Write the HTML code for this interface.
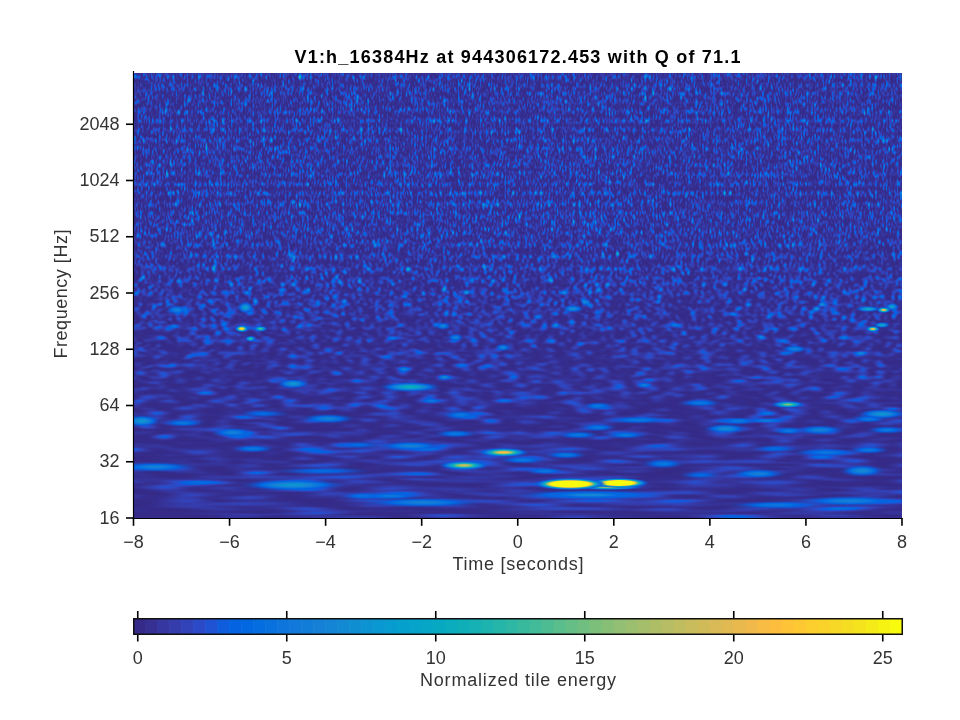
<!DOCTYPE html>
<html><head><meta charset="utf-8"><style>
html,body{margin:0;padding:0;background:#fff;width:960px;height:720px;overflow:hidden}
svg{display:block;will-change:transform}
text{font-family:"Liberation Sans",sans-serif;font-size:18px;fill:#333}
</style></head><body>
<svg width="960" height="720" viewBox="0 0 960 720">
<rect width="960" height="720" fill="#fff"/>
<defs><linearGradient id="fade" x1="0" y1="0" x2="0" y2="1"><stop offset="0" stop-color="#fff" stop-opacity="0"/><stop offset="0.5" stop-color="#fff" stop-opacity="1"/><stop offset="1" stop-color="#fff" stop-opacity="1"/></linearGradient><mask id="m" maskContentUnits="objectBoundingBox"><rect width="1" height="1" fill="url(#fade)"/></mask><filter id="cu" x="0" y="0" width="1" height="1" color-interpolation-filters="sRGB"><feComponentTransfer><feFuncR type="table" tableValues="0.208 0.209 0.210 0.211 0.211 0.212 0.212 0.212 0.212 0.212 0.211 0.210 0.209 0.208 0.205 0.202 0.200 0.197 0.192 0.186 0.180 0.175 0.167 0.157 0.146 0.136 0.125 0.110 0.095 0.080 0.064 0.052 0.041 0.030 0.019 0.011 0.010 0.009 0.007 0.006 0.008 0.011 0.013 0.016 0.019 0.023 0.027 0.030 0.034 0.038 0.042 0.046 0.050 0.053 0.056 0.059 0.062 0.064 0.066 0.069 0.071 0.073 0.074 0.075 0.077 0.078 0.078 0.079 0.079 0.079 0.079 0.078 0.077 0.076 0.074 0.072 0.069 0.067 0.064 0.061 0.057 0.054 0.050 0.047 0.043 0.040 0.037 0.034 0.032 0.030 0.028 0.027 0.026 0.025 0.025 0.024 0.024 0.024 0.023 0.023 0.023 0.023 0.023 0.023 0.023 0.024 0.025 0.025 0.026 0.028 0.031 0.034 0.037 0.040 0.045 0.049 0.054 0.059 0.065 0.071 0.076 0.082 0.089 0.095 0.102 0.109 0.116 0.123 0.130"/><feFuncG type="table" tableValues="0.166 0.172 0.177 0.183 0.188 0.193 0.199 0.205 0.210 0.216 0.221 0.227 0.233 0.239 0.245 0.251 0.257 0.262 0.269 0.275 0.281 0.288 0.294 0.302 0.309 0.317 0.324 0.332 0.341 0.349 0.357 0.364 0.370 0.377 0.383 0.389 0.394 0.399 0.404 0.409 0.413 0.417 0.421 0.425 0.429 0.433 0.437 0.440 0.444 0.448 0.451 0.455 0.459 0.462 0.466 0.469 0.472 0.476 0.479 0.483 0.486 0.490 0.493 0.497 0.500 0.504 0.508 0.511 0.515 0.519 0.523 0.527 0.531 0.535 0.539 0.543 0.548 0.552 0.557 0.562 0.566 0.571 0.576 0.580 0.585 0.589 0.594 0.598 0.602 0.606 0.610 0.614 0.617 0.621 0.624 0.627 0.631 0.634 0.637 0.640 0.643 0.645 0.648 0.651 0.653 0.656 0.658 0.661 0.663 0.666 0.668 0.670 0.673 0.675 0.677 0.679 0.682 0.684 0.686 0.688 0.690 0.692 0.694 0.696 0.698 0.700 0.702 0.704 0.706"/><feFuncB type="table" tableValues="0.529 0.540 0.552 0.563 0.574 0.585 0.597 0.608 0.619 0.631 0.642 0.654 0.666 0.677 0.689 0.701 0.712 0.724 0.736 0.748 0.759 0.771 0.783 0.795 0.807 0.818 0.830 0.839 0.848 0.857 0.865 0.870 0.874 0.877 0.880 0.882 0.882 0.882 0.883 0.883 0.882 0.881 0.880 0.879 0.878 0.876 0.875 0.873 0.871 0.870 0.868 0.866 0.864 0.862 0.860 0.858 0.856 0.854 0.852 0.850 0.848 0.846 0.844 0.842 0.840 0.838 0.837 0.835 0.833 0.832 0.830 0.829 0.828 0.827 0.826 0.826 0.825 0.825 0.824 0.824 0.823 0.823 0.823 0.822 0.822 0.821 0.820 0.819 0.818 0.816 0.815 0.814 0.811 0.809 0.807 0.805 0.802 0.799 0.796 0.793 0.790 0.787 0.784 0.780 0.777 0.773 0.769 0.766 0.762 0.758 0.754 0.750 0.746 0.742 0.738 0.734 0.730 0.726 0.721 0.717 0.712 0.708 0.703 0.699 0.694 0.689 0.684 0.679 0.675"/></feComponentTransfer></filter><filter id="cl" x="0" y="0" width="1" height="1" color-interpolation-filters="sRGB"><feComponentTransfer><feFuncR type="table" tableValues="0.208 0.208 0.209 0.209 0.210 0.211 0.211 0.212 0.212 0.212 0.212 0.212 0.211 0.210 0.209 0.208 0.204 0.201 0.198 0.193 0.186 0.178 0.171 0.158 0.144 0.130 0.112 0.092 0.071 0.052 0.037 0.022 0.011 0.009 0.007 0.007 0.011 0.014 0.019 0.025 0.030 0.036 0.042 0.048 0.053 0.058 0.063 0.066 0.070 0.073 0.075 0.077 0.078 0.079 0.079 0.077 0.076 0.073 0.069 0.064 0.058 0.052 0.046 0.040 0.034 0.031 0.028 0.026 0.025 0.024 0.024 0.023 0.023 0.023 0.023 0.025 0.027 0.032 0.037 0.044 0.053 0.063 0.074 0.085 0.098 0.111 0.124 0.139 0.154 0.169 0.185 0.202 0.219 0.238 0.256 0.276 0.296 0.317 0.338 0.360 0.382 0.403 0.425 0.447 0.468 0.489 0.509 0.530 0.549 0.568 0.587 0.606 0.624 0.642 0.660 0.677 0.694 0.711 0.728 0.745 0.761 0.777 0.794 0.810 0.826 0.842 0.858 0.874 0.889"/><feFuncG type="table" tableValues="0.166 0.168 0.171 0.175 0.179 0.183 0.188 0.193 0.198 0.203 0.209 0.214 0.220 0.227 0.233 0.239 0.246 0.253 0.260 0.268 0.276 0.284 0.292 0.301 0.311 0.321 0.331 0.342 0.354 0.364 0.373 0.382 0.390 0.397 0.404 0.411 0.417 0.423 0.429 0.435 0.441 0.446 0.452 0.457 0.463 0.468 0.474 0.479 0.485 0.491 0.496 0.502 0.508 0.514 0.520 0.527 0.534 0.541 0.549 0.557 0.565 0.573 0.581 0.589 0.596 0.603 0.610 0.617 0.623 0.629 0.635 0.640 0.645 0.650 0.655 0.660 0.664 0.668 0.673 0.677 0.681 0.685 0.689 0.693 0.697 0.701 0.704 0.708 0.712 0.715 0.719 0.722 0.725 0.728 0.731 0.734 0.737 0.739 0.741 0.743 0.745 0.746 0.747 0.748 0.749 0.749 0.749 0.749 0.749 0.749 0.748 0.747 0.747 0.746 0.745 0.744 0.743 0.742 0.740 0.739 0.738 0.736 0.735 0.733 0.732 0.731 0.729 0.728 0.727"/><feFuncB type="table" tableValues="0.529 0.534 0.540 0.547 0.556 0.564 0.574 0.584 0.594 0.605 0.617 0.628 0.640 0.653 0.666 0.679 0.692 0.706 0.720 0.734 0.749 0.764 0.779 0.794 0.809 0.825 0.838 0.850 0.862 0.870 0.875 0.879 0.882 0.882 0.883 0.882 0.881 0.879 0.878 0.875 0.873 0.870 0.868 0.865 0.862 0.858 0.855 0.852 0.849 0.846 0.843 0.839 0.837 0.834 0.831 0.829 0.827 0.826 0.825 0.824 0.824 0.823 0.822 0.821 0.820 0.817 0.815 0.811 0.807 0.803 0.798 0.793 0.787 0.781 0.775 0.768 0.761 0.753 0.746 0.738 0.731 0.722 0.714 0.706 0.697 0.688 0.678 0.669 0.659 0.649 0.639 0.629 0.618 0.608 0.597 0.586 0.575 0.564 0.553 0.542 0.531 0.521 0.511 0.501 0.492 0.483 0.475 0.466 0.458 0.450 0.443 0.435 0.428 0.421 0.414 0.407 0.400 0.393 0.387 0.380 0.373 0.367 0.360 0.353 0.347 0.340 0.333 0.326 0.318"/></feComponentTransfer></filter><filter id="fu" x="0" y="0" width="1" height="1" color-interpolation-filters="sRGB"><feTurbulence type="fractalNoise" baseFrequency="0.2778 0.1111" numOctaves="1" seed="5" result="n1"/><feTurbulence type="fractalNoise" baseFrequency="0.3647 0.0952" numOctaves="1" seed="6" result="n2"/><feColorMatrix in="n1" values="1 0 0 0 0 0 0 0 0 0 0 0 0 0 0 0 0 0 0 1" result="a"/><feColorMatrix in="n2" values="0 0 0 0 0 1 0 0 0 0 0 0 0 0 0 0 0 0 0 1" result="b"/><feComposite in="a" in2="b" operator="arithmetic" k2="1" k3="1" result="c"/><feComposite in="c" in2="c" operator="arithmetic" k1="4" k2="-2" k3="-2" k4="1"/><feColorMatrix values="1.000 1.000 0 0 0 1.000 1.000 0 0 0 1.000 1.000 0 0 0 0 0 0 0 1"/></filter><filter id="f0" x="0" y="0" width="1" height="1" color-interpolation-filters="sRGB"><feTurbulence type="fractalNoise" baseFrequency="0.2778 0.1111" numOctaves="1" seed="11" result="n1"/><feTurbulence type="fractalNoise" baseFrequency="0.3647 0.0952" numOctaves="1" seed="12" result="n2"/><feColorMatrix in="n1" values="1 0 0 0 0 0 0 0 0 0 0 0 0 0 0 0 0 0 0 1" result="a"/><feColorMatrix in="n2" values="0 0 0 0 0 1 0 0 0 0 0 0 0 0 0 0 0 0 0 1" result="b"/><feComposite in="a" in2="b" operator="arithmetic" k2="1" k3="1" result="c"/><feComposite in="c" in2="c" operator="arithmetic" k1="4" k2="-2" k3="-2" k4="1"/><feColorMatrix values="1.150 1.150 0 0 0 1.150 1.150 0 0 0 1.150 1.150 0 0 0 0 0 0 0 1"/></filter><filter id="f1" x="0" y="0" width="1" height="1" color-interpolation-filters="sRGB"><feTurbulence type="fractalNoise" baseFrequency="0.2778 0.1111" numOctaves="1" seed="18" result="n1"/><feTurbulence type="fractalNoise" baseFrequency="0.3647 0.0952" numOctaves="1" seed="19" result="n2"/><feColorMatrix in="n1" values="1 0 0 0 0 0 0 0 0 0 0 0 0 0 0 0 0 0 0 1" result="a"/><feColorMatrix in="n2" values="0 0 0 0 0 1 0 0 0 0 0 0 0 0 0 0 0 0 0 1" result="b"/><feComposite in="a" in2="b" operator="arithmetic" k2="1" k3="1" result="c"/><feComposite in="c" in2="c" operator="arithmetic" k1="4" k2="-2" k3="-2" k4="1"/><feColorMatrix values="1.150 1.150 0 0 0 1.150 1.150 0 0 0 1.150 1.150 0 0 0 0 0 0 0 1"/></filter><filter id="f2" x="0" y="0" width="1" height="1" color-interpolation-filters="sRGB"><feTurbulence type="fractalNoise" baseFrequency="0.2778 0.1111" numOctaves="1" seed="25" result="n1"/><feTurbulence type="fractalNoise" baseFrequency="0.3647 0.0952" numOctaves="1" seed="26" result="n2"/><feColorMatrix in="n1" values="1 0 0 0 0 0 0 0 0 0 0 0 0 0 0 0 0 0 0 1" result="a"/><feColorMatrix in="n2" values="0 0 0 0 0 1 0 0 0 0 0 0 0 0 0 0 0 0 0 1" result="b"/><feComposite in="a" in2="b" operator="arithmetic" k2="1" k3="1" result="c"/><feComposite in="c" in2="c" operator="arithmetic" k1="4" k2="-2" k3="-2" k4="1"/><feColorMatrix values="1.150 1.150 0 0 0 1.150 1.150 0 0 0 1.150 1.150 0 0 0 0 0 0 0 1"/></filter><filter id="f3" x="0" y="0" width="1" height="1" color-interpolation-filters="sRGB"><feTurbulence type="fractalNoise" baseFrequency="0.2778 0.1111" numOctaves="1" seed="32" result="n1"/><feTurbulence type="fractalNoise" baseFrequency="0.3647 0.0952" numOctaves="1" seed="33" result="n2"/><feColorMatrix in="n1" values="1 0 0 0 0 0 0 0 0 0 0 0 0 0 0 0 0 0 0 1" result="a"/><feColorMatrix in="n2" values="0 0 0 0 0 1 0 0 0 0 0 0 0 0 0 0 0 0 0 1" result="b"/><feComposite in="a" in2="b" operator="arithmetic" k2="1" k3="1" result="c"/><feComposite in="c" in2="c" operator="arithmetic" k1="4" k2="-2" k3="-2" k4="1"/><feColorMatrix values="1.150 1.150 0 0 0 1.150 1.150 0 0 0 1.150 1.150 0 0 0 0 0 0 0 1"/></filter><filter id="f4" x="0" y="0" width="1" height="1" color-interpolation-filters="sRGB"><feTurbulence type="fractalNoise" baseFrequency="0.2778 0.1111" numOctaves="1" seed="39" result="n1"/><feTurbulence type="fractalNoise" baseFrequency="0.3647 0.0952" numOctaves="1" seed="40" result="n2"/><feColorMatrix in="n1" values="1 0 0 0 0 0 0 0 0 0 0 0 0 0 0 0 0 0 0 1" result="a"/><feColorMatrix in="n2" values="0 0 0 0 0 1 0 0 0 0 0 0 0 0 0 0 0 0 0 1" result="b"/><feComposite in="a" in2="b" operator="arithmetic" k2="1" k3="1" result="c"/><feComposite in="c" in2="c" operator="arithmetic" k1="4" k2="-2" k3="-2" k4="1"/><feColorMatrix values="1.150 1.150 0 0 0 1.150 1.150 0 0 0 1.150 1.150 0 0 0 0 0 0 0 1"/></filter><filter id="f5" x="0" y="0" width="1" height="1" color-interpolation-filters="sRGB"><feTurbulence type="fractalNoise" baseFrequency="0.2778 0.1111" numOctaves="1" seed="46" result="n1"/><feTurbulence type="fractalNoise" baseFrequency="0.3647 0.0952" numOctaves="1" seed="47" result="n2"/><feColorMatrix in="n1" values="1 0 0 0 0 0 0 0 0 0 0 0 0 0 0 0 0 0 0 1" result="a"/><feColorMatrix in="n2" values="0 0 0 0 0 1 0 0 0 0 0 0 0 0 0 0 0 0 0 1" result="b"/><feComposite in="a" in2="b" operator="arithmetic" k2="1" k3="1" result="c"/><feComposite in="c" in2="c" operator="arithmetic" k1="4" k2="-2" k3="-2" k4="1"/><feColorMatrix values="1.150 1.150 0 0 0 1.150 1.150 0 0 0 1.150 1.150 0 0 0 0 0 0 0 1"/></filter><filter id="f6" x="0" y="0" width="1" height="1" color-interpolation-filters="sRGB"><feTurbulence type="fractalNoise" baseFrequency="0.2778 0.1111" numOctaves="1" seed="53" result="n1"/><feTurbulence type="fractalNoise" baseFrequency="0.3647 0.0952" numOctaves="1" seed="54" result="n2"/><feColorMatrix in="n1" values="1 0 0 0 0 0 0 0 0 0 0 0 0 0 0 0 0 0 0 1" result="a"/><feColorMatrix in="n2" values="0 0 0 0 0 1 0 0 0 0 0 0 0 0 0 0 0 0 0 1" result="b"/><feComposite in="a" in2="b" operator="arithmetic" k2="1" k3="1" result="c"/><feComposite in="c" in2="c" operator="arithmetic" k1="4" k2="-2" k3="-2" k4="1"/><feColorMatrix values="1.150 1.150 0 0 0 1.150 1.150 0 0 0 1.150 1.150 0 0 0 0 0 0 0 1"/></filter><filter id="f7" x="0" y="0" width="1" height="1" color-interpolation-filters="sRGB"><feTurbulence type="fractalNoise" baseFrequency="0.2778 0.1111" numOctaves="1" seed="60" result="n1"/><feTurbulence type="fractalNoise" baseFrequency="0.3647 0.0952" numOctaves="1" seed="61" result="n2"/><feColorMatrix in="n1" values="1 0 0 0 0 0 0 0 0 0 0 0 0 0 0 0 0 0 0 1" result="a"/><feColorMatrix in="n2" values="0 0 0 0 0 1 0 0 0 0 0 0 0 0 0 0 0 0 0 1" result="b"/><feComposite in="a" in2="b" operator="arithmetic" k2="1" k3="1" result="c"/><feComposite in="c" in2="c" operator="arithmetic" k1="4" k2="-2" k3="-2" k4="1"/><feColorMatrix values="1.150 1.150 0 0 0 1.150 1.150 0 0 0 1.150 1.150 0 0 0 0 0 0 0 1"/></filter><filter id="f8" x="0" y="0" width="1" height="1" color-interpolation-filters="sRGB"><feTurbulence type="fractalNoise" baseFrequency="0.2778 0.1111" numOctaves="1" seed="67" result="n1"/><feTurbulence type="fractalNoise" baseFrequency="0.3647 0.0952" numOctaves="1" seed="68" result="n2"/><feColorMatrix in="n1" values="1 0 0 0 0 0 0 0 0 0 0 0 0 0 0 0 0 0 0 1" result="a"/><feColorMatrix in="n2" values="0 0 0 0 0 1 0 0 0 0 0 0 0 0 0 0 0 0 0 1" result="b"/><feComposite in="a" in2="b" operator="arithmetic" k2="1" k3="1" result="c"/><feComposite in="c" in2="c" operator="arithmetic" k1="4" k2="-2" k3="-2" k4="1"/><feColorMatrix values="1.150 1.150 0 0 0 1.150 1.150 0 0 0 1.150 1.150 0 0 0 0 0 0 0 1"/></filter><filter id="f9" x="0" y="0" width="1" height="1" color-interpolation-filters="sRGB"><feTurbulence type="fractalNoise" baseFrequency="0.2778 0.1111" numOctaves="1" seed="74" result="n1"/><feTurbulence type="fractalNoise" baseFrequency="0.3647 0.0952" numOctaves="1" seed="75" result="n2"/><feColorMatrix in="n1" values="1 0 0 0 0 0 0 0 0 0 0 0 0 0 0 0 0 0 0 1" result="a"/><feColorMatrix in="n2" values="0 0 0 0 0 1 0 0 0 0 0 0 0 0 0 0 0 0 0 1" result="b"/><feComposite in="a" in2="b" operator="arithmetic" k2="1" k3="1" result="c"/><feComposite in="c" in2="c" operator="arithmetic" k1="4" k2="-2" k3="-2" k4="1"/><feColorMatrix values="1.150 1.150 0 0 0 1.150 1.150 0 0 0 1.150 1.150 0 0 0 0 0 0 0 1"/></filter><filter id="f10" x="0" y="0" width="1" height="1" color-interpolation-filters="sRGB"><feTurbulence type="fractalNoise" baseFrequency="0.2778 0.1111" numOctaves="1" seed="81" result="n1"/><feTurbulence type="fractalNoise" baseFrequency="0.3647 0.0952" numOctaves="1" seed="82" result="n2"/><feColorMatrix in="n1" values="1 0 0 0 0 0 0 0 0 0 0 0 0 0 0 0 0 0 0 1" result="a"/><feColorMatrix in="n2" values="0 0 0 0 0 1 0 0 0 0 0 0 0 0 0 0 0 0 0 1" result="b"/><feComposite in="a" in2="b" operator="arithmetic" k2="1" k3="1" result="c"/><feComposite in="c" in2="c" operator="arithmetic" k1="4" k2="-2" k3="-2" k4="1"/><feColorMatrix values="1.150 1.150 0 0 0 1.150 1.150 0 0 0 1.150 1.150 0 0 0 0 0 0 0 1"/></filter><filter id="f11" x="0" y="0" width="1" height="1" color-interpolation-filters="sRGB"><feTurbulence type="fractalNoise" baseFrequency="0.2778 0.1111" numOctaves="1" seed="88" result="n1"/><feTurbulence type="fractalNoise" baseFrequency="0.3647 0.0952" numOctaves="1" seed="89" result="n2"/><feColorMatrix in="n1" values="1 0 0 0 0 0 0 0 0 0 0 0 0 0 0 0 0 0 0 1" result="a"/><feColorMatrix in="n2" values="0 0 0 0 0 1 0 0 0 0 0 0 0 0 0 0 0 0 0 1" result="b"/><feComposite in="a" in2="b" operator="arithmetic" k2="1" k3="1" result="c"/><feComposite in="c" in2="c" operator="arithmetic" k1="4" k2="-2" k3="-2" k4="1"/><feColorMatrix values="1.150 1.150 0 0 0 1.150 1.150 0 0 0 1.150 1.150 0 0 0 0 0 0 0 1"/></filter><filter id="f12" x="0" y="0" width="1" height="1" color-interpolation-filters="sRGB"><feTurbulence type="fractalNoise" baseFrequency="0.2778 0.1111" numOctaves="1" seed="95" result="n1"/><feTurbulence type="fractalNoise" baseFrequency="0.3647 0.0952" numOctaves="1" seed="96" result="n2"/><feColorMatrix in="n1" values="1 0 0 0 0 0 0 0 0 0 0 0 0 0 0 0 0 0 0 1" result="a"/><feColorMatrix in="n2" values="0 0 0 0 0 1 0 0 0 0 0 0 0 0 0 0 0 0 0 1" result="b"/><feComposite in="a" in2="b" operator="arithmetic" k2="1" k3="1" result="c"/><feComposite in="c" in2="c" operator="arithmetic" k1="4" k2="-2" k3="-2" k4="1"/><feColorMatrix values="1.150 1.150 0 0 0 1.150 1.150 0 0 0 1.150 1.150 0 0 0 0 0 0 0 1"/></filter><filter id="f13" x="0" y="0" width="1" height="1" color-interpolation-filters="sRGB"><feTurbulence type="fractalNoise" baseFrequency="0.2778 0.1111" numOctaves="1" seed="102" result="n1"/><feTurbulence type="fractalNoise" baseFrequency="0.3647 0.0952" numOctaves="1" seed="103" result="n2"/><feColorMatrix in="n1" values="1 0 0 0 0 0 0 0 0 0 0 0 0 0 0 0 0 0 0 1" result="a"/><feColorMatrix in="n2" values="0 0 0 0 0 1 0 0 0 0 0 0 0 0 0 0 0 0 0 1" result="b"/><feComposite in="a" in2="b" operator="arithmetic" k2="1" k3="1" result="c"/><feComposite in="c" in2="c" operator="arithmetic" k1="4" k2="-2" k3="-2" k4="1"/><feColorMatrix values="1.150 1.150 0 0 0 1.150 1.150 0 0 0 1.150 1.150 0 0 0 0 0 0 0 1"/></filter><filter id="f14" x="0" y="0" width="1" height="1" color-interpolation-filters="sRGB"><feTurbulence type="fractalNoise" baseFrequency="0.2778 0.1111" numOctaves="1" seed="109" result="n1"/><feTurbulence type="fractalNoise" baseFrequency="0.3647 0.0952" numOctaves="1" seed="110" result="n2"/><feColorMatrix in="n1" values="1 0 0 0 0 0 0 0 0 0 0 0 0 0 0 0 0 0 0 1" result="a"/><feColorMatrix in="n2" values="0 0 0 0 0 1 0 0 0 0 0 0 0 0 0 0 0 0 0 1" result="b"/><feComposite in="a" in2="b" operator="arithmetic" k2="1" k3="1" result="c"/><feComposite in="c" in2="c" operator="arithmetic" k1="4" k2="-2" k3="-2" k4="1"/><feColorMatrix values="1.150 1.150 0 0 0 1.150 1.150 0 0 0 1.150 1.150 0 0 0 0 0 0 0 1"/></filter><filter id="f15" x="0" y="0" width="1" height="1" color-interpolation-filters="sRGB"><feTurbulence type="fractalNoise" baseFrequency="0.2778 0.1111" numOctaves="1" seed="116" result="n1"/><feTurbulence type="fractalNoise" baseFrequency="0.3647 0.0952" numOctaves="1" seed="117" result="n2"/><feColorMatrix in="n1" values="1 0 0 0 0 0 0 0 0 0 0 0 0 0 0 0 0 0 0 1" result="a"/><feColorMatrix in="n2" values="0 0 0 0 0 1 0 0 0 0 0 0 0 0 0 0 0 0 0 1" result="b"/><feComposite in="a" in2="b" operator="arithmetic" k2="1" k3="1" result="c"/><feComposite in="c" in2="c" operator="arithmetic" k1="4" k2="-2" k3="-2" k4="1"/><feColorMatrix values="1.150 1.150 0 0 0 1.150 1.150 0 0 0 1.150 1.150 0 0 0 0 0 0 0 1"/></filter><filter id="f16" x="0" y="0" width="1" height="1" color-interpolation-filters="sRGB"><feTurbulence type="fractalNoise" baseFrequency="0.2778 0.1111" numOctaves="1" seed="123" result="n1"/><feTurbulence type="fractalNoise" baseFrequency="0.3647 0.0952" numOctaves="1" seed="124" result="n2"/><feColorMatrix in="n1" values="1 0 0 0 0 0 0 0 0 0 0 0 0 0 0 0 0 0 0 1" result="a"/><feColorMatrix in="n2" values="0 0 0 0 0 1 0 0 0 0 0 0 0 0 0 0 0 0 0 1" result="b"/><feComposite in="a" in2="b" operator="arithmetic" k2="1" k3="1" result="c"/><feComposite in="c" in2="c" operator="arithmetic" k1="4" k2="-2" k3="-2" k4="1"/><feColorMatrix values="1.150 1.150 0 0 0 1.150 1.150 0 0 0 1.150 1.150 0 0 0 0 0 0 0 1"/></filter><filter id="f17" x="0" y="0" width="1" height="1" color-interpolation-filters="sRGB"><feTurbulence type="fractalNoise" baseFrequency="0.2778 0.1111" numOctaves="1" seed="130" result="n1"/><feTurbulence type="fractalNoise" baseFrequency="0.3647 0.0952" numOctaves="1" seed="131" result="n2"/><feColorMatrix in="n1" values="1 0 0 0 0 0 0 0 0 0 0 0 0 0 0 0 0 0 0 1" result="a"/><feColorMatrix in="n2" values="0 0 0 0 0 1 0 0 0 0 0 0 0 0 0 0 0 0 0 1" result="b"/><feComposite in="a" in2="b" operator="arithmetic" k2="1" k3="1" result="c"/><feComposite in="c" in2="c" operator="arithmetic" k1="4" k2="-2" k3="-2" k4="1"/><feColorMatrix values="1.150 1.150 0 0 0 1.150 1.150 0 0 0 1.150 1.150 0 0 0 0 0 0 0 1"/></filter><filter id="f18" x="0" y="0" width="1" height="1" color-interpolation-filters="sRGB"><feTurbulence type="fractalNoise" baseFrequency="0.2778 0.1111" numOctaves="1" seed="137" result="n1"/><feTurbulence type="fractalNoise" baseFrequency="0.3647 0.0952" numOctaves="1" seed="138" result="n2"/><feColorMatrix in="n1" values="1 0 0 0 0 0 0 0 0 0 0 0 0 0 0 0 0 0 0 1" result="a"/><feColorMatrix in="n2" values="0 0 0 0 0 1 0 0 0 0 0 0 0 0 0 0 0 0 0 1" result="b"/><feComposite in="a" in2="b" operator="arithmetic" k2="1" k3="1" result="c"/><feComposite in="c" in2="c" operator="arithmetic" k1="4" k2="-2" k3="-2" k4="1"/><feColorMatrix values="1.150 1.150 0 0 0 1.150 1.150 0 0 0 1.150 1.150 0 0 0 0 0 0 0 1"/></filter><filter id="f19" x="0" y="0" width="1" height="1" color-interpolation-filters="sRGB"><feTurbulence type="fractalNoise" baseFrequency="0.2778 0.1111" numOctaves="1" seed="144" result="n1"/><feTurbulence type="fractalNoise" baseFrequency="0.3647 0.0952" numOctaves="1" seed="145" result="n2"/><feColorMatrix in="n1" values="1 0 0 0 0 0 0 0 0 0 0 0 0 0 0 0 0 0 0 1" result="a"/><feColorMatrix in="n2" values="0 0 0 0 0 1 0 0 0 0 0 0 0 0 0 0 0 0 0 1" result="b"/><feComposite in="a" in2="b" operator="arithmetic" k2="1" k3="1" result="c"/><feComposite in="c" in2="c" operator="arithmetic" k1="4" k2="-2" k3="-2" k4="1"/><feColorMatrix values="1.150 1.150 0 0 0 1.150 1.150 0 0 0 1.150 1.150 0 0 0 0 0 0 0 1"/></filter><filter id="f20" x="0" y="0" width="1" height="1" color-interpolation-filters="sRGB"><feTurbulence type="fractalNoise" baseFrequency="0.2778 0.1111" numOctaves="1" seed="151" result="n1"/><feTurbulence type="fractalNoise" baseFrequency="0.3647 0.0952" numOctaves="1" seed="152" result="n2"/><feColorMatrix in="n1" values="1 0 0 0 0 0 0 0 0 0 0 0 0 0 0 0 0 0 0 1" result="a"/><feColorMatrix in="n2" values="0 0 0 0 0 1 0 0 0 0 0 0 0 0 0 0 0 0 0 1" result="b"/><feComposite in="a" in2="b" operator="arithmetic" k2="1" k3="1" result="c"/><feComposite in="c" in2="c" operator="arithmetic" k1="4" k2="-2" k3="-2" k4="1"/><feColorMatrix values="1.150 1.150 0 0 0 1.150 1.150 0 0 0 1.150 1.150 0 0 0 0 0 0 0 1"/></filter><filter id="f21" x="0" y="0" width="1" height="1" color-interpolation-filters="sRGB"><feTurbulence type="fractalNoise" baseFrequency="0.2778 0.1111" numOctaves="1" seed="158" result="n1"/><feTurbulence type="fractalNoise" baseFrequency="0.3647 0.0952" numOctaves="1" seed="159" result="n2"/><feColorMatrix in="n1" values="1 0 0 0 0 0 0 0 0 0 0 0 0 0 0 0 0 0 0 1" result="a"/><feColorMatrix in="n2" values="0 0 0 0 0 1 0 0 0 0 0 0 0 0 0 0 0 0 0 1" result="b"/><feComposite in="a" in2="b" operator="arithmetic" k2="1" k3="1" result="c"/><feComposite in="c" in2="c" operator="arithmetic" k1="4" k2="-2" k3="-2" k4="1"/><feColorMatrix values="1.150 1.150 0 0 0 1.150 1.150 0 0 0 1.150 1.150 0 0 0 0 0 0 0 1"/></filter><filter id="f22" x="0" y="0" width="1" height="1" color-interpolation-filters="sRGB"><feTurbulence type="fractalNoise" baseFrequency="0.2778 0.1111" numOctaves="1" seed="165" result="n1"/><feTurbulence type="fractalNoise" baseFrequency="0.3647 0.0952" numOctaves="1" seed="166" result="n2"/><feColorMatrix in="n1" values="1 0 0 0 0 0 0 0 0 0 0 0 0 0 0 0 0 0 0 1" result="a"/><feColorMatrix in="n2" values="0 0 0 0 0 1 0 0 0 0 0 0 0 0 0 0 0 0 0 1" result="b"/><feComposite in="a" in2="b" operator="arithmetic" k2="1" k3="1" result="c"/><feComposite in="c" in2="c" operator="arithmetic" k1="4" k2="-2" k3="-2" k4="1"/><feColorMatrix values="1.150 1.150 0 0 0 1.150 1.150 0 0 0 1.150 1.150 0 0 0 0 0 0 0 1"/></filter><filter id="f23" x="0" y="0" width="1" height="1" color-interpolation-filters="sRGB"><feTurbulence type="fractalNoise" baseFrequency="0.2778 0.1111" numOctaves="1" seed="172" result="n1"/><feTurbulence type="fractalNoise" baseFrequency="0.3647 0.0952" numOctaves="1" seed="173" result="n2"/><feColorMatrix in="n1" values="1 0 0 0 0 0 0 0 0 0 0 0 0 0 0 0 0 0 0 1" result="a"/><feColorMatrix in="n2" values="0 0 0 0 0 1 0 0 0 0 0 0 0 0 0 0 0 0 0 1" result="b"/><feComposite in="a" in2="b" operator="arithmetic" k2="1" k3="1" result="c"/><feComposite in="c" in2="c" operator="arithmetic" k1="4" k2="-2" k3="-2" k4="1"/><feColorMatrix values="1.150 1.150 0 0 0 1.150 1.150 0 0 0 1.150 1.150 0 0 0 0 0 0 0 1"/></filter><filter id="f24" x="0" y="0" width="1" height="1" color-interpolation-filters="sRGB"><feTurbulence type="fractalNoise" baseFrequency="0.2778 0.1111" numOctaves="1" seed="179" result="n1"/><feTurbulence type="fractalNoise" baseFrequency="0.3647 0.0952" numOctaves="1" seed="180" result="n2"/><feColorMatrix in="n1" values="1 0 0 0 0 0 0 0 0 0 0 0 0 0 0 0 0 0 0 1" result="a"/><feColorMatrix in="n2" values="0 0 0 0 0 1 0 0 0 0 0 0 0 0 0 0 0 0 0 1" result="b"/><feComposite in="a" in2="b" operator="arithmetic" k2="1" k3="1" result="c"/><feComposite in="c" in2="c" operator="arithmetic" k1="4" k2="-2" k3="-2" k4="1"/><feColorMatrix values="1.150 1.150 0 0 0 1.150 1.150 0 0 0 1.150 1.150 0 0 0 0 0 0 0 1"/></filter><filter id="f25" x="0" y="0" width="1" height="1" color-interpolation-filters="sRGB"><feTurbulence type="fractalNoise" baseFrequency="0.2778 0.1111" numOctaves="1" seed="186" result="n1"/><feTurbulence type="fractalNoise" baseFrequency="0.3647 0.0952" numOctaves="1" seed="187" result="n2"/><feColorMatrix in="n1" values="1 0 0 0 0 0 0 0 0 0 0 0 0 0 0 0 0 0 0 1" result="a"/><feColorMatrix in="n2" values="0 0 0 0 0 1 0 0 0 0 0 0 0 0 0 0 0 0 0 1" result="b"/><feComposite in="a" in2="b" operator="arithmetic" k2="1" k3="1" result="c"/><feComposite in="c" in2="c" operator="arithmetic" k1="4" k2="-2" k3="-2" k4="1"/><feColorMatrix values="1.150 1.150 0 0 0 1.150 1.150 0 0 0 1.150 1.150 0 0 0 0 0 0 0 1"/></filter><filter id="f26" x="0" y="0" width="1" height="1" color-interpolation-filters="sRGB"><feTurbulence type="fractalNoise" baseFrequency="0.2778 0.1111" numOctaves="1" seed="193" result="n1"/><feTurbulence type="fractalNoise" baseFrequency="0.3647 0.0952" numOctaves="1" seed="194" result="n2"/><feColorMatrix in="n1" values="1 0 0 0 0 0 0 0 0 0 0 0 0 0 0 0 0 0 0 1" result="a"/><feColorMatrix in="n2" values="0 0 0 0 0 1 0 0 0 0 0 0 0 0 0 0 0 0 0 1" result="b"/><feComposite in="a" in2="b" operator="arithmetic" k2="1" k3="1" result="c"/><feComposite in="c" in2="c" operator="arithmetic" k1="4" k2="-2" k3="-2" k4="1"/><feColorMatrix values="1.150 1.150 0 0 0 1.150 1.150 0 0 0 1.150 1.150 0 0 0 0 0 0 0 1"/></filter><filter id="f27" x="0" y="0" width="1" height="1" color-interpolation-filters="sRGB"><feTurbulence type="fractalNoise" baseFrequency="0.2778 0.1111" numOctaves="1" seed="200" result="n1"/><feTurbulence type="fractalNoise" baseFrequency="0.3647 0.0952" numOctaves="1" seed="201" result="n2"/><feColorMatrix in="n1" values="1 0 0 0 0 0 0 0 0 0 0 0 0 0 0 0 0 0 0 1" result="a"/><feColorMatrix in="n2" values="0 0 0 0 0 1 0 0 0 0 0 0 0 0 0 0 0 0 0 1" result="b"/><feComposite in="a" in2="b" operator="arithmetic" k2="1" k3="1" result="c"/><feComposite in="c" in2="c" operator="arithmetic" k1="4" k2="-2" k3="-2" k4="1"/><feColorMatrix values="1.150 1.150 0 0 0 1.150 1.150 0 0 0 1.150 1.150 0 0 0 0 0 0 0 1"/></filter><filter id="f28" x="0" y="0" width="1" height="1" color-interpolation-filters="sRGB"><feTurbulence type="fractalNoise" baseFrequency="0.2778 0.1111" numOctaves="1" seed="207" result="n1"/><feTurbulence type="fractalNoise" baseFrequency="0.3647 0.0952" numOctaves="1" seed="208" result="n2"/><feColorMatrix in="n1" values="1 0 0 0 0 0 0 0 0 0 0 0 0 0 0 0 0 0 0 1" result="a"/><feColorMatrix in="n2" values="0 0 0 0 0 1 0 0 0 0 0 0 0 0 0 0 0 0 0 1" result="b"/><feComposite in="a" in2="b" operator="arithmetic" k2="1" k3="1" result="c"/><feComposite in="c" in2="c" operator="arithmetic" k1="4" k2="-2" k3="-2" k4="1"/><feColorMatrix values="1.150 1.150 0 0 0 1.150 1.150 0 0 0 1.150 1.150 0 0 0 0 0 0 0 1"/></filter><filter id="f29" x="0" y="0" width="1" height="1" color-interpolation-filters="sRGB"><feTurbulence type="fractalNoise" baseFrequency="0.2778 0.1111" numOctaves="1" seed="214" result="n1"/><feTurbulence type="fractalNoise" baseFrequency="0.3647 0.0952" numOctaves="1" seed="215" result="n2"/><feColorMatrix in="n1" values="1 0 0 0 0 0 0 0 0 0 0 0 0 0 0 0 0 0 0 1" result="a"/><feColorMatrix in="n2" values="0 0 0 0 0 1 0 0 0 0 0 0 0 0 0 0 0 0 0 1" result="b"/><feComposite in="a" in2="b" operator="arithmetic" k2="1" k3="1" result="c"/><feComposite in="c" in2="c" operator="arithmetic" k1="4" k2="-2" k3="-2" k4="1"/><feColorMatrix values="1.150 1.150 0 0 0 1.150 1.150 0 0 0 1.150 1.150 0 0 0 0 0 0 0 1"/></filter><filter id="f30" x="0" y="0" width="1" height="1" color-interpolation-filters="sRGB"><feTurbulence type="fractalNoise" baseFrequency="0.2778 0.1111" numOctaves="1" seed="221" result="n1"/><feTurbulence type="fractalNoise" baseFrequency="0.3647 0.0952" numOctaves="1" seed="222" result="n2"/><feColorMatrix in="n1" values="1 0 0 0 0 0 0 0 0 0 0 0 0 0 0 0 0 0 0 1" result="a"/><feColorMatrix in="n2" values="0 0 0 0 0 1 0 0 0 0 0 0 0 0 0 0 0 0 0 1" result="b"/><feComposite in="a" in2="b" operator="arithmetic" k2="1" k3="1" result="c"/><feComposite in="c" in2="c" operator="arithmetic" k1="4" k2="-2" k3="-2" k4="1"/><feColorMatrix values="1.150 1.150 0 0 0 1.150 1.150 0 0 0 1.150 1.150 0 0 0 0 0 0 0 1"/></filter><filter id="f31" x="0" y="0" width="1" height="1" color-interpolation-filters="sRGB"><feTurbulence type="fractalNoise" baseFrequency="0.2778 0.1111" numOctaves="1" seed="228" result="n1"/><feTurbulence type="fractalNoise" baseFrequency="0.3647 0.0952" numOctaves="1" seed="229" result="n2"/><feColorMatrix in="n1" values="1 0 0 0 0 0 0 0 0 0 0 0 0 0 0 0 0 0 0 1" result="a"/><feColorMatrix in="n2" values="0 0 0 0 0 1 0 0 0 0 0 0 0 0 0 0 0 0 0 1" result="b"/><feComposite in="a" in2="b" operator="arithmetic" k2="1" k3="1" result="c"/><feComposite in="c" in2="c" operator="arithmetic" k1="4" k2="-2" k3="-2" k4="1"/><feColorMatrix values="1.150 1.150 0 0 0 1.150 1.150 0 0 0 1.150 1.150 0 0 0 0 0 0 0 1"/></filter><filter id="f32" x="0" y="0" width="1" height="1" color-interpolation-filters="sRGB"><feTurbulence type="fractalNoise" baseFrequency="0.2778 0.1110" numOctaves="1" seed="235" result="n1"/><feTurbulence type="fractalNoise" baseFrequency="0.3647 0.0952" numOctaves="1" seed="236" result="n2"/><feColorMatrix in="n1" values="1 0 0 0 0 0 0 0 0 0 0 0 0 0 0 0 0 0 0 1" result="a"/><feColorMatrix in="n2" values="0 0 0 0 0 1 0 0 0 0 0 0 0 0 0 0 0 0 0 1" result="b"/><feComposite in="a" in2="b" operator="arithmetic" k2="1" k3="1" result="c"/><feComposite in="c" in2="c" operator="arithmetic" k1="4" k2="-2" k3="-2" k4="1"/><feColorMatrix values="1.149 1.149 0 0 0 1.149 1.149 0 0 0 1.149 1.149 0 0 0 0 0 0 0 1"/></filter><filter id="f33" x="0" y="0" width="1" height="1" color-interpolation-filters="sRGB"><feTurbulence type="fractalNoise" baseFrequency="0.2778 0.1107" numOctaves="1" seed="242" result="n1"/><feTurbulence type="fractalNoise" baseFrequency="0.3647 0.0949" numOctaves="1" seed="243" result="n2"/><feColorMatrix in="n1" values="1 0 0 0 0 0 0 0 0 0 0 0 0 0 0 0 0 0 0 1" result="a"/><feColorMatrix in="n2" values="0 0 0 0 0 1 0 0 0 0 0 0 0 0 0 0 0 0 0 1" result="b"/><feComposite in="a" in2="b" operator="arithmetic" k2="1" k3="1" result="c"/><feComposite in="c" in2="c" operator="arithmetic" k1="4" k2="-2" k3="-2" k4="1"/><feColorMatrix values="1.147 1.147 0 0 0 1.147 1.147 0 0 0 1.147 1.147 0 0 0 0 0 0 0 1"/></filter><filter id="f34" x="0" y="0" width="1" height="1" color-interpolation-filters="sRGB"><feTurbulence type="fractalNoise" baseFrequency="0.2778 0.1104" numOctaves="1" seed="249" result="n1"/><feTurbulence type="fractalNoise" baseFrequency="0.3647 0.0946" numOctaves="1" seed="250" result="n2"/><feColorMatrix in="n1" values="1 0 0 0 0 0 0 0 0 0 0 0 0 0 0 0 0 0 0 1" result="a"/><feColorMatrix in="n2" values="0 0 0 0 0 1 0 0 0 0 0 0 0 0 0 0 0 0 0 1" result="b"/><feComposite in="a" in2="b" operator="arithmetic" k2="1" k3="1" result="c"/><feComposite in="c" in2="c" operator="arithmetic" k1="4" k2="-2" k3="-2" k4="1"/><feColorMatrix values="1.145 1.145 0 0 0 1.145 1.145 0 0 0 1.145 1.145 0 0 0 0 0 0 0 1"/></filter><filter id="f35" x="0" y="0" width="1" height="1" color-interpolation-filters="sRGB"><feTurbulence type="fractalNoise" baseFrequency="0.2778 0.1101" numOctaves="1" seed="256" result="n1"/><feTurbulence type="fractalNoise" baseFrequency="0.3647 0.0944" numOctaves="1" seed="257" result="n2"/><feColorMatrix in="n1" values="1 0 0 0 0 0 0 0 0 0 0 0 0 0 0 0 0 0 0 1" result="a"/><feColorMatrix in="n2" values="0 0 0 0 0 1 0 0 0 0 0 0 0 0 0 0 0 0 0 1" result="b"/><feComposite in="a" in2="b" operator="arithmetic" k2="1" k3="1" result="c"/><feComposite in="c" in2="c" operator="arithmetic" k1="4" k2="-2" k3="-2" k4="1"/><feColorMatrix values="1.143 1.143 0 0 0 1.143 1.143 0 0 0 1.143 1.143 0 0 0 0 0 0 0 1"/></filter><filter id="f36" x="0" y="0" width="1" height="1" color-interpolation-filters="sRGB"><feTurbulence type="fractalNoise" baseFrequency="0.2778 0.1098" numOctaves="1" seed="263" result="n1"/><feTurbulence type="fractalNoise" baseFrequency="0.3647 0.0941" numOctaves="1" seed="264" result="n2"/><feColorMatrix in="n1" values="1 0 0 0 0 0 0 0 0 0 0 0 0 0 0 0 0 0 0 1" result="a"/><feColorMatrix in="n2" values="0 0 0 0 0 1 0 0 0 0 0 0 0 0 0 0 0 0 0 1" result="b"/><feComposite in="a" in2="b" operator="arithmetic" k2="1" k3="1" result="c"/><feComposite in="c" in2="c" operator="arithmetic" k1="4" k2="-2" k3="-2" k4="1"/><feColorMatrix values="1.141 1.141 0 0 0 1.141 1.141 0 0 0 1.141 1.141 0 0 0 0 0 0 0 1"/></filter><filter id="f37" x="0" y="0" width="1" height="1" color-interpolation-filters="sRGB"><feTurbulence type="fractalNoise" baseFrequency="0.2778 0.1095" numOctaves="1" seed="270" result="n1"/><feTurbulence type="fractalNoise" baseFrequency="0.3647 0.0938" numOctaves="1" seed="271" result="n2"/><feColorMatrix in="n1" values="1 0 0 0 0 0 0 0 0 0 0 0 0 0 0 0 0 0 0 1" result="a"/><feColorMatrix in="n2" values="0 0 0 0 0 1 0 0 0 0 0 0 0 0 0 0 0 0 0 1" result="b"/><feComposite in="a" in2="b" operator="arithmetic" k2="1" k3="1" result="c"/><feComposite in="c" in2="c" operator="arithmetic" k1="4" k2="-2" k3="-2" k4="1"/><feColorMatrix values="1.139 1.139 0 0 0 1.139 1.139 0 0 0 1.139 1.139 0 0 0 0 0 0 0 1"/></filter><filter id="f38" x="0" y="0" width="1" height="1" color-interpolation-filters="sRGB"><feTurbulence type="fractalNoise" baseFrequency="0.2778 0.1092" numOctaves="1" seed="277" result="n1"/><feTurbulence type="fractalNoise" baseFrequency="0.3647 0.0936" numOctaves="1" seed="278" result="n2"/><feColorMatrix in="n1" values="1 0 0 0 0 0 0 0 0 0 0 0 0 0 0 0 0 0 0 1" result="a"/><feColorMatrix in="n2" values="0 0 0 0 0 1 0 0 0 0 0 0 0 0 0 0 0 0 0 1" result="b"/><feComposite in="a" in2="b" operator="arithmetic" k2="1" k3="1" result="c"/><feComposite in="c" in2="c" operator="arithmetic" k1="4" k2="-2" k3="-2" k4="1"/><feColorMatrix values="1.137 1.137 0 0 0 1.137 1.137 0 0 0 1.137 1.137 0 0 0 0 0 0 0 1"/></filter><filter id="f39" x="0" y="0" width="1" height="1" color-interpolation-filters="sRGB"><feTurbulence type="fractalNoise" baseFrequency="0.2708 0.1089" numOctaves="1" seed="284" result="n1"/><feTurbulence type="fractalNoise" baseFrequency="0.3556 0.0933" numOctaves="1" seed="285" result="n2"/><feColorMatrix in="n1" values="1 0 0 0 0 0 0 0 0 0 0 0 0 0 0 0 0 0 0 1" result="a"/><feColorMatrix in="n2" values="0 0 0 0 0 1 0 0 0 0 0 0 0 0 0 0 0 0 0 1" result="b"/><feComposite in="a" in2="b" operator="arithmetic" k2="1" k3="1" result="c"/><feComposite in="c" in2="c" operator="arithmetic" k1="4" k2="-2" k3="-2" k4="1"/><feColorMatrix values="1.135 1.135 0 0 0 1.135 1.135 0 0 0 1.135 1.135 0 0 0 0 0 0 0 1"/></filter><filter id="f40" x="0" y="0" width="1" height="1" color-interpolation-filters="sRGB"><feTurbulence type="fractalNoise" baseFrequency="0.2578 0.1086" numOctaves="1" seed="291" result="n1"/><feTurbulence type="fractalNoise" baseFrequency="0.3385 0.0931" numOctaves="1" seed="292" result="n2"/><feColorMatrix in="n1" values="1 0 0 0 0 0 0 0 0 0 0 0 0 0 0 0 0 0 0 1" result="a"/><feColorMatrix in="n2" values="0 0 0 0 0 1 0 0 0 0 0 0 0 0 0 0 0 0 0 1" result="b"/><feComposite in="a" in2="b" operator="arithmetic" k2="1" k3="1" result="c"/><feComposite in="c" in2="c" operator="arithmetic" k1="4" k2="-2" k3="-2" k4="1"/><feColorMatrix values="1.133 1.133 0 0 0 1.133 1.133 0 0 0 1.133 1.133 0 0 0 0 0 0 0 1"/></filter><filter id="f41" x="0" y="0" width="1" height="1" color-interpolation-filters="sRGB"><feTurbulence type="fractalNoise" baseFrequency="0.2454 0.1083" numOctaves="1" seed="298" result="n1"/><feTurbulence type="fractalNoise" baseFrequency="0.3222 0.0928" numOctaves="1" seed="299" result="n2"/><feColorMatrix in="n1" values="1 0 0 0 0 0 0 0 0 0 0 0 0 0 0 0 0 0 0 1" result="a"/><feColorMatrix in="n2" values="0 0 0 0 0 1 0 0 0 0 0 0 0 0 0 0 0 0 0 1" result="b"/><feComposite in="a" in2="b" operator="arithmetic" k2="1" k3="1" result="c"/><feComposite in="c" in2="c" operator="arithmetic" k1="4" k2="-2" k3="-2" k4="1"/><feColorMatrix values="1.131 1.131 0 0 0 1.131 1.131 0 0 0 1.131 1.131 0 0 0 0 0 0 0 1"/></filter><filter id="f42" x="0" y="0" width="1" height="1" color-interpolation-filters="sRGB"><feTurbulence type="fractalNoise" baseFrequency="0.2336 0.1080" numOctaves="1" seed="305" result="n1"/><feTurbulence type="fractalNoise" baseFrequency="0.3067 0.0926" numOctaves="1" seed="306" result="n2"/><feColorMatrix in="n1" values="1 0 0 0 0 0 0 0 0 0 0 0 0 0 0 0 0 0 0 1" result="a"/><feColorMatrix in="n2" values="0 0 0 0 0 1 0 0 0 0 0 0 0 0 0 0 0 0 0 1" result="b"/><feComposite in="a" in2="b" operator="arithmetic" k2="1" k3="1" result="c"/><feComposite in="c" in2="c" operator="arithmetic" k1="4" k2="-2" k3="-2" k4="1"/><feColorMatrix values="1.129 1.129 0 0 0 1.129 1.129 0 0 0 1.129 1.129 0 0 0 0 0 0 0 1"/></filter><filter id="f43" x="0" y="0" width="1" height="1" color-interpolation-filters="sRGB"><feTurbulence type="fractalNoise" baseFrequency="0.2224 0.1077" numOctaves="1" seed="312" result="n1"/><feTurbulence type="fractalNoise" baseFrequency="0.2920 0.0923" numOctaves="1" seed="313" result="n2"/><feColorMatrix in="n1" values="1 0 0 0 0 0 0 0 0 0 0 0 0 0 0 0 0 0 0 1" result="a"/><feColorMatrix in="n2" values="0 0 0 0 0 1 0 0 0 0 0 0 0 0 0 0 0 0 0 1" result="b"/><feComposite in="a" in2="b" operator="arithmetic" k2="1" k3="1" result="c"/><feComposite in="c" in2="c" operator="arithmetic" k1="4" k2="-2" k3="-2" k4="1"/><feColorMatrix values="1.127 1.127 0 0 0 1.127 1.127 0 0 0 1.127 1.127 0 0 0 0 0 0 0 1"/></filter><filter id="f44" x="0" y="0" width="1" height="1" color-interpolation-filters="sRGB"><feTurbulence type="fractalNoise" baseFrequency="0.2117 0.1074" numOctaves="1" seed="319" result="n1"/><feTurbulence type="fractalNoise" baseFrequency="0.2779 0.0921" numOctaves="1" seed="320" result="n2"/><feColorMatrix in="n1" values="1 0 0 0 0 0 0 0 0 0 0 0 0 0 0 0 0 0 0 1" result="a"/><feColorMatrix in="n2" values="0 0 0 0 0 1 0 0 0 0 0 0 0 0 0 0 0 0 0 1" result="b"/><feComposite in="a" in2="b" operator="arithmetic" k2="1" k3="1" result="c"/><feComposite in="c" in2="c" operator="arithmetic" k1="4" k2="-2" k3="-2" k4="1"/><feColorMatrix values="1.125 1.125 0 0 0 1.125 1.125 0 0 0 1.125 1.125 0 0 0 0 0 0 0 1"/></filter><filter id="f45" x="0" y="0" width="1" height="1" color-interpolation-filters="sRGB"><feTurbulence type="fractalNoise" baseFrequency="0.2015 0.1071" numOctaves="1" seed="326" result="n1"/><feTurbulence type="fractalNoise" baseFrequency="0.2645 0.0918" numOctaves="1" seed="327" result="n2"/><feColorMatrix in="n1" values="1 0 0 0 0 0 0 0 0 0 0 0 0 0 0 0 0 0 0 1" result="a"/><feColorMatrix in="n2" values="0 0 0 0 0 1 0 0 0 0 0 0 0 0 0 0 0 0 0 1" result="b"/><feComposite in="a" in2="b" operator="arithmetic" k2="1" k3="1" result="c"/><feComposite in="c" in2="c" operator="arithmetic" k1="4" k2="-2" k3="-2" k4="1"/><feColorMatrix values="1.123 1.123 0 0 0 1.123 1.123 0 0 0 1.123 1.123 0 0 0 0 0 0 0 1"/></filter><filter id="f46" x="0" y="0" width="1" height="1" color-interpolation-filters="sRGB"><feTurbulence type="fractalNoise" baseFrequency="0.1918 0.1069" numOctaves="1" seed="333" result="n1"/><feTurbulence type="fractalNoise" baseFrequency="0.2518 0.0916" numOctaves="1" seed="334" result="n2"/><feColorMatrix in="n1" values="1 0 0 0 0 0 0 0 0 0 0 0 0 0 0 0 0 0 0 1" result="a"/><feColorMatrix in="n2" values="0 0 0 0 0 1 0 0 0 0 0 0 0 0 0 0 0 0 0 1" result="b"/><feComposite in="a" in2="b" operator="arithmetic" k2="1" k3="1" result="c"/><feComposite in="c" in2="c" operator="arithmetic" k1="4" k2="-2" k3="-2" k4="1"/><feColorMatrix values="1.121 1.121 0 0 0 1.121 1.121 0 0 0 1.121 1.121 0 0 0 0 0 0 0 1"/></filter><filter id="f47" x="0" y="0" width="1" height="1" color-interpolation-filters="sRGB"><feTurbulence type="fractalNoise" baseFrequency="0.1826 0.1066" numOctaves="1" seed="340" result="n1"/><feTurbulence type="fractalNoise" baseFrequency="0.2397 0.0913" numOctaves="1" seed="341" result="n2"/><feColorMatrix in="n1" values="1 0 0 0 0 0 0 0 0 0 0 0 0 0 0 0 0 0 0 1" result="a"/><feColorMatrix in="n2" values="0 0 0 0 0 1 0 0 0 0 0 0 0 0 0 0 0 0 0 1" result="b"/><feComposite in="a" in2="b" operator="arithmetic" k2="1" k3="1" result="c"/><feComposite in="c" in2="c" operator="arithmetic" k1="4" k2="-2" k3="-2" k4="1"/><feColorMatrix values="1.119 1.119 0 0 0 1.119 1.119 0 0 0 1.119 1.119 0 0 0 0 0 0 0 1"/></filter><filter id="f48" x="0" y="0" width="1" height="1" color-interpolation-filters="sRGB"><feTurbulence type="fractalNoise" baseFrequency="0.1738 0.1063" numOctaves="1" seed="347" result="n1"/><feTurbulence type="fractalNoise" baseFrequency="0.2282 0.0911" numOctaves="1" seed="348" result="n2"/><feColorMatrix in="n1" values="1 0 0 0 0 0 0 0 0 0 0 0 0 0 0 0 0 0 0 1" result="a"/><feColorMatrix in="n2" values="0 0 0 0 0 1 0 0 0 0 0 0 0 0 0 0 0 0 0 1" result="b"/><feComposite in="a" in2="b" operator="arithmetic" k2="1" k3="1" result="c"/><feComposite in="c" in2="c" operator="arithmetic" k1="4" k2="-2" k3="-2" k4="1"/><feColorMatrix values="1.117 1.117 0 0 0 1.117 1.117 0 0 0 1.117 1.117 0 0 0 0 0 0 0 1"/></filter><filter id="f49" x="0" y="0" width="1" height="1" color-interpolation-filters="sRGB"><feTurbulence type="fractalNoise" baseFrequency="0.1654 0.1060" numOctaves="1" seed="354" result="n1"/><feTurbulence type="fractalNoise" baseFrequency="0.2172 0.0908" numOctaves="1" seed="355" result="n2"/><feColorMatrix in="n1" values="1 0 0 0 0 0 0 0 0 0 0 0 0 0 0 0 0 0 0 1" result="a"/><feColorMatrix in="n2" values="0 0 0 0 0 1 0 0 0 0 0 0 0 0 0 0 0 0 0 1" result="b"/><feComposite in="a" in2="b" operator="arithmetic" k2="1" k3="1" result="c"/><feComposite in="c" in2="c" operator="arithmetic" k1="4" k2="-2" k3="-2" k4="1"/><feColorMatrix values="1.115 1.115 0 0 0 1.115 1.115 0 0 0 1.115 1.115 0 0 0 0 0 0 0 1"/></filter><filter id="f50" x="0" y="0" width="1" height="1" color-interpolation-filters="sRGB"><feTurbulence type="fractalNoise" baseFrequency="0.1575 0.1057" numOctaves="1" seed="361" result="n1"/><feTurbulence type="fractalNoise" baseFrequency="0.2068 0.0906" numOctaves="1" seed="362" result="n2"/><feColorMatrix in="n1" values="1 0 0 0 0 0 0 0 0 0 0 0 0 0 0 0 0 0 0 1" result="a"/><feColorMatrix in="n2" values="0 0 0 0 0 1 0 0 0 0 0 0 0 0 0 0 0 0 0 1" result="b"/><feComposite in="a" in2="b" operator="arithmetic" k2="1" k3="1" result="c"/><feComposite in="c" in2="c" operator="arithmetic" k1="4" k2="-2" k3="-2" k4="1"/><feColorMatrix values="1.113 1.113 0 0 0 1.113 1.113 0 0 0 1.113 1.113 0 0 0 0 0 0 0 1"/></filter><filter id="f51" x="0" y="0" width="1" height="1" color-interpolation-filters="sRGB"><feTurbulence type="fractalNoise" baseFrequency="0.1499 0.1054" numOctaves="1" seed="368" result="n1"/><feTurbulence type="fractalNoise" baseFrequency="0.1968 0.0904" numOctaves="1" seed="369" result="n2"/><feColorMatrix in="n1" values="1 0 0 0 0 0 0 0 0 0 0 0 0 0 0 0 0 0 0 1" result="a"/><feColorMatrix in="n2" values="0 0 0 0 0 1 0 0 0 0 0 0 0 0 0 0 0 0 0 1" result="b"/><feComposite in="a" in2="b" operator="arithmetic" k2="1" k3="1" result="c"/><feComposite in="c" in2="c" operator="arithmetic" k1="4" k2="-2" k3="-2" k4="1"/><feColorMatrix values="1.112 1.112 0 0 0 1.112 1.112 0 0 0 1.112 1.112 0 0 0 0 0 0 0 1"/></filter><filter id="f52" x="0" y="0" width="1" height="1" color-interpolation-filters="sRGB"><feTurbulence type="fractalNoise" baseFrequency="0.1427 0.1052" numOctaves="1" seed="375" result="n1"/><feTurbulence type="fractalNoise" baseFrequency="0.1874 0.0901" numOctaves="1" seed="376" result="n2"/><feColorMatrix in="n1" values="1 0 0 0 0 0 0 0 0 0 0 0 0 0 0 0 0 0 0 1" result="a"/><feColorMatrix in="n2" values="0 0 0 0 0 1 0 0 0 0 0 0 0 0 0 0 0 0 0 1" result="b"/><feComposite in="a" in2="b" operator="arithmetic" k2="1" k3="1" result="c"/><feComposite in="c" in2="c" operator="arithmetic" k1="4" k2="-2" k3="-2" k4="1"/><feColorMatrix values="1.110 1.110 0 0 0 1.110 1.110 0 0 0 1.110 1.110 0 0 0 0 0 0 0 1"/></filter><filter id="f53" x="0" y="0" width="1" height="1" color-interpolation-filters="sRGB"><feTurbulence type="fractalNoise" baseFrequency="0.1358 0.1049" numOctaves="1" seed="382" result="n1"/><feTurbulence type="fractalNoise" baseFrequency="0.1783 0.0899" numOctaves="1" seed="383" result="n2"/><feColorMatrix in="n1" values="1 0 0 0 0 0 0 0 0 0 0 0 0 0 0 0 0 0 0 1" result="a"/><feColorMatrix in="n2" values="0 0 0 0 0 1 0 0 0 0 0 0 0 0 0 0 0 0 0 1" result="b"/><feComposite in="a" in2="b" operator="arithmetic" k2="1" k3="1" result="c"/><feComposite in="c" in2="c" operator="arithmetic" k1="4" k2="-2" k3="-2" k4="1"/><feColorMatrix values="1.108 1.108 0 0 0 1.108 1.108 0 0 0 1.108 1.108 0 0 0 0 0 0 0 1"/></filter><filter id="f54" x="0" y="0" width="1" height="1" color-interpolation-filters="sRGB"><feTurbulence type="fractalNoise" baseFrequency="0.1293 0.1046" numOctaves="1" seed="389" result="n1"/><feTurbulence type="fractalNoise" baseFrequency="0.1698 0.0896" numOctaves="1" seed="390" result="n2"/><feColorMatrix in="n1" values="1 0 0 0 0 0 0 0 0 0 0 0 0 0 0 0 0 0 0 1" result="a"/><feColorMatrix in="n2" values="0 0 0 0 0 1 0 0 0 0 0 0 0 0 0 0 0 0 0 1" result="b"/><feComposite in="a" in2="b" operator="arithmetic" k2="1" k3="1" result="c"/><feComposite in="c" in2="c" operator="arithmetic" k1="4" k2="-2" k3="-2" k4="1"/><feColorMatrix values="1.106 1.106 0 0 0 1.106 1.106 0 0 0 1.106 1.106 0 0 0 0 0 0 0 1"/></filter><filter id="f55" x="0" y="0" width="1" height="1" color-interpolation-filters="sRGB"><feTurbulence type="fractalNoise" baseFrequency="0.1231 0.1043" numOctaves="1" seed="396" result="n1"/><feTurbulence type="fractalNoise" baseFrequency="0.1616 0.0894" numOctaves="1" seed="397" result="n2"/><feColorMatrix in="n1" values="1 0 0 0 0 0 0 0 0 0 0 0 0 0 0 0 0 0 0 1" result="a"/><feColorMatrix in="n2" values="0 0 0 0 0 1 0 0 0 0 0 0 0 0 0 0 0 0 0 1" result="b"/><feComposite in="a" in2="b" operator="arithmetic" k2="1" k3="1" result="c"/><feComposite in="c" in2="c" operator="arithmetic" k1="4" k2="-2" k3="-2" k4="1"/><feColorMatrix values="1.104 1.104 0 0 0 1.104 1.104 0 0 0 1.104 1.104 0 0 0 0 0 0 0 1"/></filter><filter id="f56" x="0" y="0" width="1" height="1" color-interpolation-filters="sRGB"><feTurbulence type="fractalNoise" baseFrequency="0.1172 0.1041" numOctaves="1" seed="403" result="n1"/><feTurbulence type="fractalNoise" baseFrequency="0.1538 0.0892" numOctaves="1" seed="404" result="n2"/><feColorMatrix in="n1" values="1 0 0 0 0 0 0 0 0 0 0 0 0 0 0 0 0 0 0 1" result="a"/><feColorMatrix in="n2" values="0 0 0 0 0 1 0 0 0 0 0 0 0 0 0 0 0 0 0 1" result="b"/><feComposite in="a" in2="b" operator="arithmetic" k2="1" k3="1" result="c"/><feComposite in="c" in2="c" operator="arithmetic" k1="4" k2="-2" k3="-2" k4="1"/><feColorMatrix values="1.102 1.102 0 0 0 1.102 1.102 0 0 0 1.102 1.102 0 0 0 0 0 0 0 1"/></filter><filter id="f57" x="0" y="0" width="1" height="1" color-interpolation-filters="sRGB"><feTurbulence type="fractalNoise" baseFrequency="0.1115 0.1038" numOctaves="1" seed="410" result="n1"/><feTurbulence type="fractalNoise" baseFrequency="0.1464 0.0889" numOctaves="1" seed="411" result="n2"/><feColorMatrix in="n1" values="1 0 0 0 0 0 0 0 0 0 0 0 0 0 0 0 0 0 0 1" result="a"/><feColorMatrix in="n2" values="0 0 0 0 0 1 0 0 0 0 0 0 0 0 0 0 0 0 0 1" result="b"/><feComposite in="a" in2="b" operator="arithmetic" k2="1" k3="1" result="c"/><feComposite in="c" in2="c" operator="arithmetic" k1="4" k2="-2" k3="-2" k4="1"/><feColorMatrix values="1.096 1.096 0 0 0 1.096 1.096 0 0 0 1.096 1.096 0 0 0 0 0 0 0 1"/></filter><filter id="f58" x="0" y="0" width="1" height="1" color-interpolation-filters="sRGB"><feTurbulence type="fractalNoise" baseFrequency="0.1062 0.1035" numOctaves="1" seed="417" result="n1"/><feTurbulence type="fractalNoise" baseFrequency="0.1394 0.0887" numOctaves="1" seed="418" result="n2"/><feColorMatrix in="n1" values="1 0 0 0 0 0 0 0 0 0 0 0 0 0 0 0 0 0 0 1" result="a"/><feColorMatrix in="n2" values="0 0 0 0 0 1 0 0 0 0 0 0 0 0 0 0 0 0 0 1" result="b"/><feComposite in="a" in2="b" operator="arithmetic" k2="1" k3="1" result="c"/><feComposite in="c" in2="c" operator="arithmetic" k1="4" k2="-2" k3="-2" k4="1"/><feColorMatrix values="1.079 1.079 0 0 0 1.079 1.079 0 0 0 1.079 1.079 0 0 0 0 0 0 0 1"/></filter><filter id="f59" x="0" y="0" width="1" height="1" color-interpolation-filters="sRGB"><feTurbulence type="fractalNoise" baseFrequency="0.1011 0.1032" numOctaves="1" seed="424" result="n1"/><feTurbulence type="fractalNoise" baseFrequency="0.1327 0.0885" numOctaves="1" seed="425" result="n2"/><feColorMatrix in="n1" values="1 0 0 0 0 0 0 0 0 0 0 0 0 0 0 0 0 0 0 1" result="a"/><feColorMatrix in="n2" values="0 0 0 0 0 1 0 0 0 0 0 0 0 0 0 0 0 0 0 1" result="b"/><feComposite in="a" in2="b" operator="arithmetic" k2="1" k3="1" result="c"/><feComposite in="c" in2="c" operator="arithmetic" k1="4" k2="-2" k3="-2" k4="1"/><feColorMatrix values="1.062 1.062 0 0 0 1.062 1.062 0 0 0 1.062 1.062 0 0 0 0 0 0 0 1"/></filter><filter id="f60" x="0" y="0" width="1" height="1" color-interpolation-filters="sRGB"><feTurbulence type="fractalNoise" baseFrequency="0.0962 0.1030" numOctaves="1" seed="431" result="n1"/><feTurbulence type="fractalNoise" baseFrequency="0.1263 0.0883" numOctaves="1" seed="432" result="n2"/><feColorMatrix in="n1" values="1 0 0 0 0 0 0 0 0 0 0 0 0 0 0 0 0 0 0 1" result="a"/><feColorMatrix in="n2" values="0 0 0 0 0 1 0 0 0 0 0 0 0 0 0 0 0 0 0 1" result="b"/><feComposite in="a" in2="b" operator="arithmetic" k2="1" k3="1" result="c"/><feComposite in="c" in2="c" operator="arithmetic" k1="4" k2="-2" k3="-2" k4="1"/><feColorMatrix values="1.046 1.046 0 0 0 1.046 1.046 0 0 0 1.046 1.046 0 0 0 0 0 0 0 1"/></filter><filter id="f61" x="0" y="0" width="1" height="1" color-interpolation-filters="sRGB"><feTurbulence type="fractalNoise" baseFrequency="0.0916 0.1027" numOctaves="1" seed="438" result="n1"/><feTurbulence type="fractalNoise" baseFrequency="0.1202 0.0880" numOctaves="1" seed="439" result="n2"/><feColorMatrix in="n1" values="1 0 0 0 0 0 0 0 0 0 0 0 0 0 0 0 0 0 0 1" result="a"/><feColorMatrix in="n2" values="0 0 0 0 0 1 0 0 0 0 0 0 0 0 0 0 0 0 0 1" result="b"/><feComposite in="a" in2="b" operator="arithmetic" k2="1" k3="1" result="c"/><feComposite in="c" in2="c" operator="arithmetic" k1="4" k2="-2" k3="-2" k4="1"/><feColorMatrix values="1.029 1.029 0 0 0 1.029 1.029 0 0 0 1.029 1.029 0 0 0 0 0 0 0 1"/></filter><filter id="f62" x="0" y="0" width="1" height="1" color-interpolation-filters="sRGB"><feTurbulence type="fractalNoise" baseFrequency="0.0872 0.1024" numOctaves="1" seed="445" result="n1"/><feTurbulence type="fractalNoise" baseFrequency="0.1144 0.0878" numOctaves="1" seed="446" result="n2"/><feColorMatrix in="n1" values="1 0 0 0 0 0 0 0 0 0 0 0 0 0 0 0 0 0 0 1" result="a"/><feColorMatrix in="n2" values="0 0 0 0 0 1 0 0 0 0 0 0 0 0 0 0 0 0 0 1" result="b"/><feComposite in="a" in2="b" operator="arithmetic" k2="1" k3="1" result="c"/><feComposite in="c" in2="c" operator="arithmetic" k1="4" k2="-2" k3="-2" k4="1"/><feColorMatrix values="1.012 1.012 0 0 0 1.012 1.012 0 0 0 1.012 1.012 0 0 0 0 0 0 0 1"/></filter><filter id="f63" x="0" y="0" width="1" height="1" color-interpolation-filters="sRGB"><feTurbulence type="fractalNoise" baseFrequency="0.0830 0.1022" numOctaves="1" seed="452" result="n1"/><feTurbulence type="fractalNoise" baseFrequency="0.1089 0.0876" numOctaves="1" seed="453" result="n2"/><feColorMatrix in="n1" values="1 0 0 0 0 0 0 0 0 0 0 0 0 0 0 0 0 0 0 1" result="a"/><feColorMatrix in="n2" values="0 0 0 0 0 1 0 0 0 0 0 0 0 0 0 0 0 0 0 1" result="b"/><feComposite in="a" in2="b" operator="arithmetic" k2="1" k3="1" result="c"/><feComposite in="c" in2="c" operator="arithmetic" k1="4" k2="-2" k3="-2" k4="1"/><feColorMatrix values="0.996 0.996 0 0 0 0.996 0.996 0 0 0 0.996 0.996 0 0 0 0 0 0 0 1"/></filter><filter id="f64" x="0" y="0" width="1" height="1" color-interpolation-filters="sRGB"><feTurbulence type="fractalNoise" baseFrequency="0.0790 0.1019" numOctaves="1" seed="459" result="n1"/><feTurbulence type="fractalNoise" baseFrequency="0.1037 0.0873" numOctaves="1" seed="460" result="n2"/><feColorMatrix in="n1" values="1 0 0 0 0 0 0 0 0 0 0 0 0 0 0 0 0 0 0 1" result="a"/><feColorMatrix in="n2" values="0 0 0 0 0 1 0 0 0 0 0 0 0 0 0 0 0 0 0 1" result="b"/><feComposite in="a" in2="b" operator="arithmetic" k2="1" k3="1" result="c"/><feComposite in="c" in2="c" operator="arithmetic" k1="4" k2="-2" k3="-2" k4="1"/><feColorMatrix values="0.979 0.979 0 0 0 0.979 0.979 0 0 0 0.979 0.979 0 0 0 0 0 0 0 1"/></filter><filter id="f65" x="0" y="0" width="1" height="1" color-interpolation-filters="sRGB"><feTurbulence type="fractalNoise" baseFrequency="0.0752 0.1017" numOctaves="1" seed="466" result="n1"/><feTurbulence type="fractalNoise" baseFrequency="0.0987 0.0871" numOctaves="1" seed="467" result="n2"/><feColorMatrix in="n1" values="1 0 0 0 0 0 0 0 0 0 0 0 0 0 0 0 0 0 0 1" result="a"/><feColorMatrix in="n2" values="0 0 0 0 0 1 0 0 0 0 0 0 0 0 0 0 0 0 0 1" result="b"/><feComposite in="a" in2="b" operator="arithmetic" k2="1" k3="1" result="c"/><feComposite in="c" in2="c" operator="arithmetic" k1="4" k2="-2" k3="-2" k4="1"/><feColorMatrix values="0.963 0.963 0 0 0 0.963 0.963 0 0 0 0.963 0.963 0 0 0 0 0 0 0 1"/></filter><filter id="f66" x="0" y="0" width="1" height="1" color-interpolation-filters="sRGB"><feTurbulence type="fractalNoise" baseFrequency="0.0716 0.1014" numOctaves="1" seed="473" result="n1"/><feTurbulence type="fractalNoise" baseFrequency="0.0940 0.0869" numOctaves="1" seed="474" result="n2"/><feColorMatrix in="n1" values="1 0 0 0 0 0 0 0 0 0 0 0 0 0 0 0 0 0 0 1" result="a"/><feColorMatrix in="n2" values="0 0 0 0 0 1 0 0 0 0 0 0 0 0 0 0 0 0 0 1" result="b"/><feComposite in="a" in2="b" operator="arithmetic" k2="1" k3="1" result="c"/><feComposite in="c" in2="c" operator="arithmetic" k1="4" k2="-2" k3="-2" k4="1"/><feColorMatrix values="0.946 0.946 0 0 0 0.946 0.946 0 0 0 0.946 0.946 0 0 0 0 0 0 0 1"/></filter><filter id="f67" x="0" y="0" width="1" height="1" color-interpolation-filters="sRGB"><feTurbulence type="fractalNoise" baseFrequency="0.0681 0.1011" numOctaves="1" seed="480" result="n1"/><feTurbulence type="fractalNoise" baseFrequency="0.0894 0.0867" numOctaves="1" seed="481" result="n2"/><feColorMatrix in="n1" values="1 0 0 0 0 0 0 0 0 0 0 0 0 0 0 0 0 0 0 1" result="a"/><feColorMatrix in="n2" values="0 0 0 0 0 1 0 0 0 0 0 0 0 0 0 0 0 0 0 1" result="b"/><feComposite in="a" in2="b" operator="arithmetic" k2="1" k3="1" result="c"/><feComposite in="c" in2="c" operator="arithmetic" k1="4" k2="-2" k3="-2" k4="1"/><feColorMatrix values="0.929 0.929 0 0 0 0.929 0.929 0 0 0 0.929 0.929 0 0 0 0 0 0 0 1"/></filter><filter id="f68" x="0" y="0" width="1" height="1" color-interpolation-filters="sRGB"><feTurbulence type="fractalNoise" baseFrequency="0.0648 0.1009" numOctaves="1" seed="487" result="n1"/><feTurbulence type="fractalNoise" baseFrequency="0.0851 0.0865" numOctaves="1" seed="488" result="n2"/><feColorMatrix in="n1" values="1 0 0 0 0 0 0 0 0 0 0 0 0 0 0 0 0 0 0 1" result="a"/><feColorMatrix in="n2" values="0 0 0 0 0 1 0 0 0 0 0 0 0 0 0 0 0 0 0 1" result="b"/><feComposite in="a" in2="b" operator="arithmetic" k2="1" k3="1" result="c"/><feComposite in="c" in2="c" operator="arithmetic" k1="4" k2="-2" k3="-2" k4="1"/><feColorMatrix values="0.912 0.912 0 0 0 0.912 0.912 0 0 0 0.912 0.912 0 0 0 0 0 0 0 1"/></filter><filter id="f69" x="0" y="0" width="1" height="1" color-interpolation-filters="sRGB"><feTurbulence type="fractalNoise" baseFrequency="0.0617 0.1006" numOctaves="1" seed="494" result="n1"/><feTurbulence type="fractalNoise" baseFrequency="0.0810 0.0862" numOctaves="1" seed="495" result="n2"/><feColorMatrix in="n1" values="1 0 0 0 0 0 0 0 0 0 0 0 0 0 0 0 0 0 0 1" result="a"/><feColorMatrix in="n2" values="0 0 0 0 0 1 0 0 0 0 0 0 0 0 0 0 0 0 0 1" result="b"/><feComposite in="a" in2="b" operator="arithmetic" k2="1" k3="1" result="c"/><feComposite in="c" in2="c" operator="arithmetic" k1="4" k2="-2" k3="-2" k4="1"/><feColorMatrix values="0.896 0.896 0 0 0 0.896 0.896 0 0 0 0.896 0.896 0 0 0 0 0 0 0 1"/></filter><filter id="f70" x="0" y="0" width="1" height="1" color-interpolation-filters="sRGB"><feTurbulence type="fractalNoise" baseFrequency="0.0588 0.1004" numOctaves="1" seed="501" result="n1"/><feTurbulence type="fractalNoise" baseFrequency="0.0772 0.0860" numOctaves="1" seed="502" result="n2"/><feColorMatrix in="n1" values="1 0 0 0 0 0 0 0 0 0 0 0 0 0 0 0 0 0 0 1" result="a"/><feColorMatrix in="n2" values="0 0 0 0 0 1 0 0 0 0 0 0 0 0 0 0 0 0 0 1" result="b"/><feComposite in="a" in2="b" operator="arithmetic" k2="1" k3="1" result="c"/><feComposite in="c" in2="c" operator="arithmetic" k1="4" k2="-2" k3="-2" k4="1"/><feColorMatrix values="0.879 0.879 0 0 0 0.879 0.879 0 0 0 0.879 0.879 0 0 0 0 0 0 0 1"/></filter><filter id="f71" x="0" y="0" width="1" height="1" color-interpolation-filters="sRGB"><feTurbulence type="fractalNoise" baseFrequency="0.0559 0.1001" numOctaves="1" seed="508" result="n1"/><feTurbulence type="fractalNoise" baseFrequency="0.0734 0.0858" numOctaves="1" seed="509" result="n2"/><feColorMatrix in="n1" values="1 0 0 0 0 0 0 0 0 0 0 0 0 0 0 0 0 0 0 1" result="a"/><feColorMatrix in="n2" values="0 0 0 0 0 1 0 0 0 0 0 0 0 0 0 0 0 0 0 1" result="b"/><feComposite in="a" in2="b" operator="arithmetic" k2="1" k3="1" result="c"/><feComposite in="c" in2="c" operator="arithmetic" k1="4" k2="-2" k3="-2" k4="1"/><feColorMatrix values="0.862 0.862 0 0 0 0.862 0.862 0 0 0 0.862 0.862 0 0 0 0 0 0 0 1"/></filter><filter id="f72" x="0" y="0" width="1" height="1" color-interpolation-filters="sRGB"><feTurbulence type="fractalNoise" baseFrequency="0.0532 0.0999" numOctaves="1" seed="515" result="n1"/><feTurbulence type="fractalNoise" baseFrequency="0.0699 0.0856" numOctaves="1" seed="516" result="n2"/><feColorMatrix in="n1" values="1 0 0 0 0 0 0 0 0 0 0 0 0 0 0 0 0 0 0 1" result="a"/><feColorMatrix in="n2" values="0 0 0 0 0 1 0 0 0 0 0 0 0 0 0 0 0 0 0 1" result="b"/><feComposite in="a" in2="b" operator="arithmetic" k2="1" k3="1" result="c"/><feComposite in="c" in2="c" operator="arithmetic" k1="4" k2="-2" k3="-2" k4="1"/><feColorMatrix values="0.849 0.849 0 0 0 0.849 0.849 0 0 0 0.849 0.849 0 0 0 0 0 0 0 1"/></filter><filter id="f73" x="0" y="0" width="1" height="1" color-interpolation-filters="sRGB"><feTurbulence type="fractalNoise" baseFrequency="0.0507 0.0996" numOctaves="1" seed="522" result="n1"/><feTurbulence type="fractalNoise" baseFrequency="0.0665 0.0854" numOctaves="1" seed="523" result="n2"/><feColorMatrix in="n1" values="1 0 0 0 0 0 0 0 0 0 0 0 0 0 0 0 0 0 0 1" result="a"/><feColorMatrix in="n2" values="0 0 0 0 0 1 0 0 0 0 0 0 0 0 0 0 0 0 0 1" result="b"/><feComposite in="a" in2="b" operator="arithmetic" k2="1" k3="1" result="c"/><feComposite in="c" in2="c" operator="arithmetic" k1="4" k2="-2" k3="-2" k4="1"/><feColorMatrix values="0.846 0.846 0 0 0 0.846 0.846 0 0 0 0.846 0.846 0 0 0 0 0 0 0 1"/></filter><filter id="f74" x="0" y="0" width="1" height="1" color-interpolation-filters="sRGB"><feTurbulence type="fractalNoise" baseFrequency="0.0482 0.0994" numOctaves="1" seed="529" result="n1"/><feTurbulence type="fractalNoise" baseFrequency="0.0633 0.0852" numOctaves="1" seed="530" result="n2"/><feColorMatrix in="n1" values="1 0 0 0 0 0 0 0 0 0 0 0 0 0 0 0 0 0 0 1" result="a"/><feColorMatrix in="n2" values="0 0 0 0 0 1 0 0 0 0 0 0 0 0 0 0 0 0 0 1" result="b"/><feComposite in="a" in2="b" operator="arithmetic" k2="1" k3="1" result="c"/><feComposite in="c" in2="c" operator="arithmetic" k1="4" k2="-2" k3="-2" k4="1"/><feColorMatrix values="0.844 0.844 0 0 0 0.844 0.844 0 0 0 0.844 0.844 0 0 0 0 0 0 0 1"/></filter><filter id="f75" x="0" y="0" width="1" height="1" color-interpolation-filters="sRGB"><feTurbulence type="fractalNoise" baseFrequency="0.0459 0.0991" numOctaves="1" seed="536" result="n1"/><feTurbulence type="fractalNoise" baseFrequency="0.0603 0.0850" numOctaves="1" seed="537" result="n2"/><feColorMatrix in="n1" values="1 0 0 0 0 0 0 0 0 0 0 0 0 0 0 0 0 0 0 1" result="a"/><feColorMatrix in="n2" values="0 0 0 0 0 1 0 0 0 0 0 0 0 0 0 0 0 0 0 1" result="b"/><feComposite in="a" in2="b" operator="arithmetic" k2="1" k3="1" result="c"/><feComposite in="c" in2="c" operator="arithmetic" k1="4" k2="-2" k3="-2" k4="1"/><feColorMatrix values="0.841 0.841 0 0 0 0.841 0.841 0 0 0 0.841 0.841 0 0 0 0 0 0 0 1"/></filter><filter id="f76" x="0" y="0" width="1" height="1" color-interpolation-filters="sRGB"><feTurbulence type="fractalNoise" baseFrequency="0.0437 0.0989" numOctaves="1" seed="543" result="n1"/><feTurbulence type="fractalNoise" baseFrequency="0.0574 0.0847" numOctaves="1" seed="544" result="n2"/><feColorMatrix in="n1" values="1 0 0 0 0 0 0 0 0 0 0 0 0 0 0 0 0 0 0 1" result="a"/><feColorMatrix in="n2" values="0 0 0 0 0 1 0 0 0 0 0 0 0 0 0 0 0 0 0 1" result="b"/><feComposite in="a" in2="b" operator="arithmetic" k2="1" k3="1" result="c"/><feComposite in="c" in2="c" operator="arithmetic" k1="4" k2="-2" k3="-2" k4="1"/><feColorMatrix values="0.838 0.838 0 0 0 0.838 0.838 0 0 0 0.838 0.838 0 0 0 0 0 0 0 1"/></filter><filter id="f77" x="0" y="0" width="1" height="1" color-interpolation-filters="sRGB"><feTurbulence type="fractalNoise" baseFrequency="0.0416 0.0986" numOctaves="1" seed="550" result="n1"/><feTurbulence type="fractalNoise" baseFrequency="0.0546 0.0845" numOctaves="1" seed="551" result="n2"/><feColorMatrix in="n1" values="1 0 0 0 0 0 0 0 0 0 0 0 0 0 0 0 0 0 0 1" result="a"/><feColorMatrix in="n2" values="0 0 0 0 0 1 0 0 0 0 0 0 0 0 0 0 0 0 0 1" result="b"/><feComposite in="a" in2="b" operator="arithmetic" k2="1" k3="1" result="c"/><feComposite in="c" in2="c" operator="arithmetic" k1="4" k2="-2" k3="-2" k4="1"/><feColorMatrix values="0.835 0.835 0 0 0 0.835 0.835 0 0 0 0.835 0.835 0 0 0 0 0 0 0 1"/></filter><filter id="f78" x="0" y="0" width="1" height="1" color-interpolation-filters="sRGB"><feTurbulence type="fractalNoise" baseFrequency="0.0396 0.0984" numOctaves="1" seed="557" result="n1"/><feTurbulence type="fractalNoise" baseFrequency="0.0520 0.0843" numOctaves="1" seed="558" result="n2"/><feColorMatrix in="n1" values="1 0 0 0 0 0 0 0 0 0 0 0 0 0 0 0 0 0 0 1" result="a"/><feColorMatrix in="n2" values="0 0 0 0 0 1 0 0 0 0 0 0 0 0 0 0 0 0 0 1" result="b"/><feComposite in="a" in2="b" operator="arithmetic" k2="1" k3="1" result="c"/><feComposite in="c" in2="c" operator="arithmetic" k1="4" k2="-2" k3="-2" k4="1"/><feColorMatrix values="0.832 0.832 0 0 0 0.832 0.832 0 0 0 0.832 0.832 0 0 0 0 0 0 0 1"/></filter><filter id="f79" x="0" y="0" width="1" height="1" color-interpolation-filters="sRGB"><feTurbulence type="fractalNoise" baseFrequency="0.0377 0.0981" numOctaves="1" seed="564" result="n1"/><feTurbulence type="fractalNoise" baseFrequency="0.0495 0.0841" numOctaves="1" seed="565" result="n2"/><feColorMatrix in="n1" values="1 0 0 0 0 0 0 0 0 0 0 0 0 0 0 0 0 0 0 1" result="a"/><feColorMatrix in="n2" values="0 0 0 0 0 1 0 0 0 0 0 0 0 0 0 0 0 0 0 1" result="b"/><feComposite in="a" in2="b" operator="arithmetic" k2="1" k3="1" result="c"/><feComposite in="c" in2="c" operator="arithmetic" k1="4" k2="-2" k3="-2" k4="1"/><feColorMatrix values="0.829 0.829 0 0 0 0.829 0.829 0 0 0 0.829 0.829 0 0 0 0 0 0 0 1"/></filter><filter id="f80" x="0" y="0" width="1" height="1" color-interpolation-filters="sRGB"><feTurbulence type="fractalNoise" baseFrequency="0.0359 0.0979" numOctaves="1" seed="571" result="n1"/><feTurbulence type="fractalNoise" baseFrequency="0.0471 0.0839" numOctaves="1" seed="572" result="n2"/><feColorMatrix in="n1" values="1 0 0 0 0 0 0 0 0 0 0 0 0 0 0 0 0 0 0 1" result="a"/><feColorMatrix in="n2" values="0 0 0 0 0 1 0 0 0 0 0 0 0 0 0 0 0 0 0 1" result="b"/><feComposite in="a" in2="b" operator="arithmetic" k2="1" k3="1" result="c"/><feComposite in="c" in2="c" operator="arithmetic" k1="4" k2="-2" k3="-2" k4="1"/><feColorMatrix values="0.826 0.826 0 0 0 0.826 0.826 0 0 0 0.826 0.826 0 0 0 0 0 0 0 1"/></filter><filter id="f81" x="0" y="0" width="1" height="1" color-interpolation-filters="sRGB"><feTurbulence type="fractalNoise" baseFrequency="0.0342 0.0977" numOctaves="1" seed="578" result="n1"/><feTurbulence type="fractalNoise" baseFrequency="0.0449 0.0837" numOctaves="1" seed="579" result="n2"/><feColorMatrix in="n1" values="1 0 0 0 0 0 0 0 0 0 0 0 0 0 0 0 0 0 0 1" result="a"/><feColorMatrix in="n2" values="0 0 0 0 0 1 0 0 0 0 0 0 0 0 0 0 0 0 0 1" result="b"/><feComposite in="a" in2="b" operator="arithmetic" k2="1" k3="1" result="c"/><feComposite in="c" in2="c" operator="arithmetic" k1="4" k2="-2" k3="-2" k4="1"/><feColorMatrix values="0.824 0.824 0 0 0 0.824 0.824 0 0 0 0.824 0.824 0 0 0 0 0 0 0 1"/></filter><filter id="f82" x="0" y="0" width="1" height="1" color-interpolation-filters="sRGB"><feTurbulence type="fractalNoise" baseFrequency="0.0325 0.0974" numOctaves="1" seed="585" result="n1"/><feTurbulence type="fractalNoise" baseFrequency="0.0427 0.0835" numOctaves="1" seed="586" result="n2"/><feColorMatrix in="n1" values="1 0 0 0 0 0 0 0 0 0 0 0 0 0 0 0 0 0 0 1" result="a"/><feColorMatrix in="n2" values="0 0 0 0 0 1 0 0 0 0 0 0 0 0 0 0 0 0 0 1" result="b"/><feComposite in="a" in2="b" operator="arithmetic" k2="1" k3="1" result="c"/><feComposite in="c" in2="c" operator="arithmetic" k1="4" k2="-2" k3="-2" k4="1"/><feColorMatrix values="0.821 0.821 0 0 0 0.821 0.821 0 0 0 0.821 0.821 0 0 0 0 0 0 0 1"/></filter><filter id="f83" x="0" y="0" width="1" height="1" color-interpolation-filters="sRGB"><feTurbulence type="fractalNoise" baseFrequency="0.0310 0.0972" numOctaves="1" seed="592" result="n1"/><feTurbulence type="fractalNoise" baseFrequency="0.0406 0.0833" numOctaves="1" seed="593" result="n2"/><feColorMatrix in="n1" values="1 0 0 0 0 0 0 0 0 0 0 0 0 0 0 0 0 0 0 1" result="a"/><feColorMatrix in="n2" values="0 0 0 0 0 1 0 0 0 0 0 0 0 0 0 0 0 0 0 1" result="b"/><feComposite in="a" in2="b" operator="arithmetic" k2="1" k3="1" result="c"/><feComposite in="c" in2="c" operator="arithmetic" k1="4" k2="-2" k3="-2" k4="1"/><feColorMatrix values="0.818 0.818 0 0 0 0.818 0.818 0 0 0 0.818 0.818 0 0 0 0 0 0 0 1"/></filter><filter id="f84" x="0" y="0" width="1" height="1" color-interpolation-filters="sRGB"><feTurbulence type="fractalNoise" baseFrequency="0.0295 0.0970" numOctaves="1" seed="599" result="n1"/><feTurbulence type="fractalNoise" baseFrequency="0.0387 0.0831" numOctaves="1" seed="600" result="n2"/><feColorMatrix in="n1" values="1 0 0 0 0 0 0 0 0 0 0 0 0 0 0 0 0 0 0 1" result="a"/><feColorMatrix in="n2" values="0 0 0 0 0 1 0 0 0 0 0 0 0 0 0 0 0 0 0 1" result="b"/><feComposite in="a" in2="b" operator="arithmetic" k2="1" k3="1" result="c"/><feComposite in="c" in2="c" operator="arithmetic" k1="4" k2="-2" k3="-2" k4="1"/><feColorMatrix values="0.815 0.815 0 0 0 0.815 0.815 0 0 0 0.815 0.815 0 0 0 0 0 0 0 1"/></filter><filter id="f85" x="0" y="0" width="1" height="1" color-interpolation-filters="sRGB"><feTurbulence type="fractalNoise" baseFrequency="0.0281 0.0967" numOctaves="1" seed="606" result="n1"/><feTurbulence type="fractalNoise" baseFrequency="0.0368 0.0829" numOctaves="1" seed="607" result="n2"/><feColorMatrix in="n1" values="1 0 0 0 0 0 0 0 0 0 0 0 0 0 0 0 0 0 0 1" result="a"/><feColorMatrix in="n2" values="0 0 0 0 0 1 0 0 0 0 0 0 0 0 0 0 0 0 0 1" result="b"/><feComposite in="a" in2="b" operator="arithmetic" k2="1" k3="1" result="c"/><feComposite in="c" in2="c" operator="arithmetic" k1="4" k2="-2" k3="-2" k4="1"/><feColorMatrix values="0.812 0.812 0 0 0 0.812 0.812 0 0 0 0.812 0.812 0 0 0 0 0 0 0 1"/></filter><filter id="f86" x="0" y="0" width="1" height="1" color-interpolation-filters="sRGB"><feTurbulence type="fractalNoise" baseFrequency="0.0267 0.0965" numOctaves="1" seed="613" result="n1"/><feTurbulence type="fractalNoise" baseFrequency="0.0351 0.0827" numOctaves="1" seed="614" result="n2"/><feColorMatrix in="n1" values="1 0 0 0 0 0 0 0 0 0 0 0 0 0 0 0 0 0 0 1" result="a"/><feColorMatrix in="n2" values="0 0 0 0 0 1 0 0 0 0 0 0 0 0 0 0 0 0 0 1" result="b"/><feComposite in="a" in2="b" operator="arithmetic" k2="1" k3="1" result="c"/><feComposite in="c" in2="c" operator="arithmetic" k1="4" k2="-2" k3="-2" k4="1"/><feColorMatrix values="0.809 0.809 0 0 0 0.809 0.809 0 0 0 0.809 0.809 0 0 0 0 0 0 0 1"/></filter><filter id="f87" x="0" y="0" width="1" height="1" color-interpolation-filters="sRGB"><feTurbulence type="fractalNoise" baseFrequency="0.0254 0.0962" numOctaves="1" seed="620" result="n1"/><feTurbulence type="fractalNoise" baseFrequency="0.0334 0.0825" numOctaves="1" seed="621" result="n2"/><feColorMatrix in="n1" values="1 0 0 0 0 0 0 0 0 0 0 0 0 0 0 0 0 0 0 1" result="a"/><feColorMatrix in="n2" values="0 0 0 0 0 1 0 0 0 0 0 0 0 0 0 0 0 0 0 1" result="b"/><feComposite in="a" in2="b" operator="arithmetic" k2="1" k3="1" result="c"/><feComposite in="c" in2="c" operator="arithmetic" k1="4" k2="-2" k3="-2" k4="1"/><feColorMatrix values="0.806 0.806 0 0 0 0.806 0.806 0 0 0 0.806 0.806 0 0 0 0 0 0 0 1"/></filter><filter id="f88" x="0" y="0" width="1" height="1" color-interpolation-filters="sRGB"><feTurbulence type="fractalNoise" baseFrequency="0.0242 0.0960" numOctaves="1" seed="627" result="n1"/><feTurbulence type="fractalNoise" baseFrequency="0.0318 0.0823" numOctaves="1" seed="628" result="n2"/><feColorMatrix in="n1" values="1 0 0 0 0 0 0 0 0 0 0 0 0 0 0 0 0 0 0 1" result="a"/><feColorMatrix in="n2" values="0 0 0 0 0 1 0 0 0 0 0 0 0 0 0 0 0 0 0 1" result="b"/><feComposite in="a" in2="b" operator="arithmetic" k2="1" k3="1" result="c"/><feComposite in="c" in2="c" operator="arithmetic" k1="4" k2="-2" k3="-2" k4="1"/><feColorMatrix values="0.804 0.804 0 0 0 0.804 0.804 0 0 0 0.804 0.804 0 0 0 0 0 0 0 1"/></filter><filter id="f89" x="0" y="0" width="1" height="1" color-interpolation-filters="sRGB"><feTurbulence type="fractalNoise" baseFrequency="0.0230 0.0958" numOctaves="1" seed="634" result="n1"/><feTurbulence type="fractalNoise" baseFrequency="0.0302 0.0821" numOctaves="1" seed="635" result="n2"/><feColorMatrix in="n1" values="1 0 0 0 0 0 0 0 0 0 0 0 0 0 0 0 0 0 0 1" result="a"/><feColorMatrix in="n2" values="0 0 0 0 0 1 0 0 0 0 0 0 0 0 0 0 0 0 0 1" result="b"/><feComposite in="a" in2="b" operator="arithmetic" k2="1" k3="1" result="c"/><feComposite in="c" in2="c" operator="arithmetic" k1="4" k2="-2" k3="-2" k4="1"/><feColorMatrix values="0.801 0.801 0 0 0 0.801 0.801 0 0 0 0.801 0.801 0 0 0 0 0 0 0 1"/></filter><filter id="f90" x="0" y="0" width="1" height="1" color-interpolation-filters="sRGB"><feTurbulence type="fractalNoise" baseFrequency="0.0219 0.0956" numOctaves="1" seed="641" result="n1"/><feTurbulence type="fractalNoise" baseFrequency="0.0288 0.0819" numOctaves="1" seed="642" result="n2"/><feColorMatrix in="n1" values="1 0 0 0 0 0 0 0 0 0 0 0 0 0 0 0 0 0 0 1" result="a"/><feColorMatrix in="n2" values="0 0 0 0 0 1 0 0 0 0 0 0 0 0 0 0 0 0 0 1" result="b"/><feComposite in="a" in2="b" operator="arithmetic" k2="1" k3="1" result="c"/><feComposite in="c" in2="c" operator="arithmetic" k1="4" k2="-2" k3="-2" k4="1"/><feColorMatrix values="0.802 0.802 0 0 0 0.802 0.802 0 0 0 0.802 0.802 0 0 0 0 0 0 0 1"/></filter><filter id="f91" x="0" y="0" width="1" height="1" color-interpolation-filters="sRGB"><feTurbulence type="fractalNoise" baseFrequency="0.0209 0.0953" numOctaves="1" seed="648" result="n1"/><feTurbulence type="fractalNoise" baseFrequency="0.0274 0.0817" numOctaves="1" seed="649" result="n2"/><feColorMatrix in="n1" values="1 0 0 0 0 0 0 0 0 0 0 0 0 0 0 0 0 0 0 1" result="a"/><feColorMatrix in="n2" values="0 0 0 0 0 1 0 0 0 0 0 0 0 0 0 0 0 0 0 1" result="b"/><feComposite in="a" in2="b" operator="arithmetic" k2="1" k3="1" result="c"/><feComposite in="c" in2="c" operator="arithmetic" k1="4" k2="-2" k3="-2" k4="1"/><feColorMatrix values="0.804 0.804 0 0 0 0.804 0.804 0 0 0 0.804 0.804 0 0 0 0 0 0 0 1"/></filter><filter id="f92" x="0" y="0" width="1" height="1" color-interpolation-filters="sRGB"><feTurbulence type="fractalNoise" baseFrequency="0.0199 0.0951" numOctaves="1" seed="655" result="n1"/><feTurbulence type="fractalNoise" baseFrequency="0.0261 0.0815" numOctaves="1" seed="656" result="n2"/><feColorMatrix in="n1" values="1 0 0 0 0 0 0 0 0 0 0 0 0 0 0 0 0 0 0 1" result="a"/><feColorMatrix in="n2" values="0 0 0 0 0 1 0 0 0 0 0 0 0 0 0 0 0 0 0 1" result="b"/><feComposite in="a" in2="b" operator="arithmetic" k2="1" k3="1" result="c"/><feComposite in="c" in2="c" operator="arithmetic" k1="4" k2="-2" k3="-2" k4="1"/><feColorMatrix values="0.806 0.806 0 0 0 0.806 0.806 0 0 0 0.806 0.806 0 0 0 0 0 0 0 1"/></filter><filter id="f93" x="0" y="0" width="1" height="1" color-interpolation-filters="sRGB"><feTurbulence type="fractalNoise" baseFrequency="0.0189 0.0949" numOctaves="1" seed="662" result="n1"/><feTurbulence type="fractalNoise" baseFrequency="0.0248 0.0813" numOctaves="1" seed="663" result="n2"/><feColorMatrix in="n1" values="1 0 0 0 0 0 0 0 0 0 0 0 0 0 0 0 0 0 0 1" result="a"/><feColorMatrix in="n2" values="0 0 0 0 0 1 0 0 0 0 0 0 0 0 0 0 0 0 0 1" result="b"/><feComposite in="a" in2="b" operator="arithmetic" k2="1" k3="1" result="c"/><feComposite in="c" in2="c" operator="arithmetic" k1="4" k2="-2" k3="-2" k4="1"/><feColorMatrix values="0.809 0.809 0 0 0 0.809 0.809 0 0 0 0.809 0.809 0 0 0 0 0 0 0 1"/></filter><filter id="f94" x="0" y="0" width="1" height="1" color-interpolation-filters="sRGB"><feTurbulence type="fractalNoise" baseFrequency="0.0180 0.0946" numOctaves="1" seed="669" result="n1"/><feTurbulence type="fractalNoise" baseFrequency="0.0236 0.0811" numOctaves="1" seed="670" result="n2"/><feColorMatrix in="n1" values="1 0 0 0 0 0 0 0 0 0 0 0 0 0 0 0 0 0 0 1" result="a"/><feColorMatrix in="n2" values="0 0 0 0 0 1 0 0 0 0 0 0 0 0 0 0 0 0 0 1" result="b"/><feComposite in="a" in2="b" operator="arithmetic" k2="1" k3="1" result="c"/><feComposite in="c" in2="c" operator="arithmetic" k1="4" k2="-2" k3="-2" k4="1"/><feColorMatrix values="0.811 0.811 0 0 0 0.811 0.811 0 0 0 0.811 0.811 0 0 0 0 0 0 0 1"/></filter><filter id="f95" x="0" y="0" width="1" height="1" color-interpolation-filters="sRGB"><feTurbulence type="fractalNoise" baseFrequency="0.0171 0.0944" numOctaves="1" seed="676" result="n1"/><feTurbulence type="fractalNoise" baseFrequency="0.0225 0.0809" numOctaves="1" seed="677" result="n2"/><feColorMatrix in="n1" values="1 0 0 0 0 0 0 0 0 0 0 0 0 0 0 0 0 0 0 1" result="a"/><feColorMatrix in="n2" values="0 0 0 0 0 1 0 0 0 0 0 0 0 0 0 0 0 0 0 1" result="b"/><feComposite in="a" in2="b" operator="arithmetic" k2="1" k3="1" result="c"/><feComposite in="c" in2="c" operator="arithmetic" k1="4" k2="-2" k3="-2" k4="1"/><feColorMatrix values="0.813 0.813 0 0 0 0.813 0.813 0 0 0 0.813 0.813 0 0 0 0 0 0 0 1"/></filter><filter id="f96" x="0" y="0" width="1" height="1" color-interpolation-filters="sRGB"><feTurbulence type="fractalNoise" baseFrequency="0.0163 0.0942" numOctaves="1" seed="683" result="n1"/><feTurbulence type="fractalNoise" baseFrequency="0.0214 0.0807" numOctaves="1" seed="684" result="n2"/><feColorMatrix in="n1" values="1 0 0 0 0 0 0 0 0 0 0 0 0 0 0 0 0 0 0 1" result="a"/><feColorMatrix in="n2" values="0 0 0 0 0 1 0 0 0 0 0 0 0 0 0 0 0 0 0 1" result="b"/><feComposite in="a" in2="b" operator="arithmetic" k2="1" k3="1" result="c"/><feComposite in="c" in2="c" operator="arithmetic" k1="4" k2="-2" k3="-2" k4="1"/><feColorMatrix values="0.815 0.815 0 0 0 0.815 0.815 0 0 0 0.815 0.815 0 0 0 0 0 0 0 1"/></filter><filter id="f97" x="0" y="0" width="1" height="1" color-interpolation-filters="sRGB"><feTurbulence type="fractalNoise" baseFrequency="0.0155 0.0940" numOctaves="1" seed="690" result="n1"/><feTurbulence type="fractalNoise" baseFrequency="0.0204 0.0805" numOctaves="1" seed="691" result="n2"/><feColorMatrix in="n1" values="1 0 0 0 0 0 0 0 0 0 0 0 0 0 0 0 0 0 0 1" result="a"/><feColorMatrix in="n2" values="0 0 0 0 0 1 0 0 0 0 0 0 0 0 0 0 0 0 0 1" result="b"/><feComposite in="a" in2="b" operator="arithmetic" k2="1" k3="1" result="c"/><feComposite in="c" in2="c" operator="arithmetic" k1="4" k2="-2" k3="-2" k4="1"/><feColorMatrix values="0.818 0.818 0 0 0 0.818 0.818 0 0 0 0.818 0.818 0 0 0 0 0 0 0 1"/></filter><filter id="f98" x="0" y="0" width="1" height="1" color-interpolation-filters="sRGB"><feTurbulence type="fractalNoise" baseFrequency="0.0148 0.0938" numOctaves="1" seed="697" result="n1"/><feTurbulence type="fractalNoise" baseFrequency="0.0194 0.0803" numOctaves="1" seed="698" result="n2"/><feColorMatrix in="n1" values="1 0 0 0 0 0 0 0 0 0 0 0 0 0 0 0 0 0 0 1" result="a"/><feColorMatrix in="n2" values="0 0 0 0 0 1 0 0 0 0 0 0 0 0 0 0 0 0 0 1" result="b"/><feComposite in="a" in2="b" operator="arithmetic" k2="1" k3="1" result="c"/><feComposite in="c" in2="c" operator="arithmetic" k1="4" k2="-2" k3="-2" k4="1"/><feColorMatrix values="0.820 0.820 0 0 0 0.820 0.820 0 0 0 0.820 0.820 0 0 0 0 0 0 0 1"/></filter><filter id="f99" x="0" y="0" width="1" height="1" color-interpolation-filters="sRGB"><feTurbulence type="fractalNoise" baseFrequency="0.0141 0.0935" numOctaves="1" seed="704" result="n1"/><feTurbulence type="fractalNoise" baseFrequency="0.0185 0.0802" numOctaves="1" seed="705" result="n2"/><feColorMatrix in="n1" values="1 0 0 0 0 0 0 0 0 0 0 0 0 0 0 0 0 0 0 1" result="a"/><feColorMatrix in="n2" values="0 0 0 0 0 1 0 0 0 0 0 0 0 0 0 0 0 0 0 1" result="b"/><feComposite in="a" in2="b" operator="arithmetic" k2="1" k3="1" result="c"/><feComposite in="c" in2="c" operator="arithmetic" k1="4" k2="-2" k3="-2" k4="1"/><feColorMatrix values="0.822 0.822 0 0 0 0.822 0.822 0 0 0 0.822 0.822 0 0 0 0 0 0 0 1"/></filter><filter id="f100" x="0" y="0" width="1" height="1" color-interpolation-filters="sRGB"><feTurbulence type="fractalNoise" baseFrequency="0.0134 0.0933" numOctaves="1" seed="711" result="n1"/><feTurbulence type="fractalNoise" baseFrequency="0.0176 0.0800" numOctaves="1" seed="712" result="n2"/><feColorMatrix in="n1" values="1 0 0 0 0 0 0 0 0 0 0 0 0 0 0 0 0 0 0 1" result="a"/><feColorMatrix in="n2" values="0 0 0 0 0 1 0 0 0 0 0 0 0 0 0 0 0 0 0 1" result="b"/><feComposite in="a" in2="b" operator="arithmetic" k2="1" k3="1" result="c"/><feComposite in="c" in2="c" operator="arithmetic" k1="4" k2="-2" k3="-2" k4="1"/><feColorMatrix values="0.824 0.824 0 0 0 0.824 0.824 0 0 0 0.824 0.824 0 0 0 0 0 0 0 1"/></filter><filter id="f101" x="0" y="0" width="1" height="1" color-interpolation-filters="sRGB"><feTurbulence type="fractalNoise" baseFrequency="0.0127 0.0931" numOctaves="1" seed="718" result="n1"/><feTurbulence type="fractalNoise" baseFrequency="0.0167 0.0798" numOctaves="1" seed="719" result="n2"/><feColorMatrix in="n1" values="1 0 0 0 0 0 0 0 0 0 0 0 0 0 0 0 0 0 0 1" result="a"/><feColorMatrix in="n2" values="0 0 0 0 0 1 0 0 0 0 0 0 0 0 0 0 0 0 0 1" result="b"/><feComposite in="a" in2="b" operator="arithmetic" k2="1" k3="1" result="c"/><feComposite in="c" in2="c" operator="arithmetic" k1="4" k2="-2" k3="-2" k4="1"/><feColorMatrix values="0.827 0.827 0 0 0 0.827 0.827 0 0 0 0.827 0.827 0 0 0 0 0 0 0 1"/></filter><filter id="f102" x="0" y="0" width="1" height="1" color-interpolation-filters="sRGB"><feTurbulence type="fractalNoise" baseFrequency="0.0121 0.0929" numOctaves="1" seed="725" result="n1"/><feTurbulence type="fractalNoise" baseFrequency="0.0159 0.0796" numOctaves="1" seed="726" result="n2"/><feColorMatrix in="n1" values="1 0 0 0 0 0 0 0 0 0 0 0 0 0 0 0 0 0 0 1" result="a"/><feColorMatrix in="n2" values="0 0 0 0 0 1 0 0 0 0 0 0 0 0 0 0 0 0 0 1" result="b"/><feComposite in="a" in2="b" operator="arithmetic" k2="1" k3="1" result="c"/><feComposite in="c" in2="c" operator="arithmetic" k1="4" k2="-2" k3="-2" k4="1"/><feColorMatrix values="0.829 0.829 0 0 0 0.829 0.829 0 0 0 0.829 0.829 0 0 0 0 0 0 0 1"/></filter><filter id="f103" x="0" y="0" width="1" height="1" color-interpolation-filters="sRGB"><feTurbulence type="fractalNoise" baseFrequency="0.0116 0.0927" numOctaves="1" seed="732" result="n1"/><feTurbulence type="fractalNoise" baseFrequency="0.0152 0.0794" numOctaves="1" seed="733" result="n2"/><feColorMatrix in="n1" values="1 0 0 0 0 0 0 0 0 0 0 0 0 0 0 0 0 0 0 1" result="a"/><feColorMatrix in="n2" values="0 0 0 0 0 1 0 0 0 0 0 0 0 0 0 0 0 0 0 1" result="b"/><feComposite in="a" in2="b" operator="arithmetic" k2="1" k3="1" result="c"/><feComposite in="c" in2="c" operator="arithmetic" k1="4" k2="-2" k3="-2" k4="1"/><feColorMatrix values="0.831 0.831 0 0 0 0.831 0.831 0 0 0 0.831 0.831 0 0 0 0 0 0 0 1"/></filter><filter id="f104" x="0" y="0" width="1" height="1" color-interpolation-filters="sRGB"><feTurbulence type="fractalNoise" baseFrequency="0.0110 0.0924" numOctaves="1" seed="739" result="n1"/><feTurbulence type="fractalNoise" baseFrequency="0.0144 0.0792" numOctaves="1" seed="740" result="n2"/><feColorMatrix in="n1" values="1 0 0 0 0 0 0 0 0 0 0 0 0 0 0 0 0 0 0 1" result="a"/><feColorMatrix in="n2" values="0 0 0 0 0 1 0 0 0 0 0 0 0 0 0 0 0 0 0 1" result="b"/><feComposite in="a" in2="b" operator="arithmetic" k2="1" k3="1" result="c"/><feComposite in="c" in2="c" operator="arithmetic" k1="4" k2="-2" k3="-2" k4="1"/><feColorMatrix values="0.834 0.834 0 0 0 0.834 0.834 0 0 0 0.834 0.834 0 0 0 0 0 0 0 1"/></filter><filter id="f105" x="0" y="0" width="1" height="1" color-interpolation-filters="sRGB"><feTurbulence type="fractalNoise" baseFrequency="0.0105 0.0922" numOctaves="1" seed="746" result="n1"/><feTurbulence type="fractalNoise" baseFrequency="0.0137 0.0790" numOctaves="1" seed="747" result="n2"/><feColorMatrix in="n1" values="1 0 0 0 0 0 0 0 0 0 0 0 0 0 0 0 0 0 0 1" result="a"/><feColorMatrix in="n2" values="0 0 0 0 0 1 0 0 0 0 0 0 0 0 0 0 0 0 0 1" result="b"/><feComposite in="a" in2="b" operator="arithmetic" k2="1" k3="1" result="c"/><feComposite in="c" in2="c" operator="arithmetic" k1="4" k2="-2" k3="-2" k4="1"/><feColorMatrix values="0.836 0.836 0 0 0 0.836 0.836 0 0 0 0.836 0.836 0 0 0 0 0 0 0 1"/></filter><filter id="f106" x="0" y="0" width="1" height="1" color-interpolation-filters="sRGB"><feTurbulence type="fractalNoise" baseFrequency="0.0100 0.0920" numOctaves="1" seed="753" result="n1"/><feTurbulence type="fractalNoise" baseFrequency="0.0131 0.0789" numOctaves="1" seed="754" result="n2"/><feColorMatrix in="n1" values="1 0 0 0 0 0 0 0 0 0 0 0 0 0 0 0 0 0 0 1" result="a"/><feColorMatrix in="n2" values="0 0 0 0 0 1 0 0 0 0 0 0 0 0 0 0 0 0 0 1" result="b"/><feComposite in="a" in2="b" operator="arithmetic" k2="1" k3="1" result="c"/><feComposite in="c" in2="c" operator="arithmetic" k1="4" k2="-2" k3="-2" k4="1"/><feColorMatrix values="0.838 0.838 0 0 0 0.838 0.838 0 0 0 0.838 0.838 0 0 0 0 0 0 0 1"/></filter><filter id="f107" x="0" y="0" width="1" height="1" color-interpolation-filters="sRGB"><feTurbulence type="fractalNoise" baseFrequency="0.0095 0.0918" numOctaves="1" seed="760" result="n1"/><feTurbulence type="fractalNoise" baseFrequency="0.0125 0.0787" numOctaves="1" seed="761" result="n2"/><feColorMatrix in="n1" values="1 0 0 0 0 0 0 0 0 0 0 0 0 0 0 0 0 0 0 1" result="a"/><feColorMatrix in="n2" values="0 0 0 0 0 1 0 0 0 0 0 0 0 0 0 0 0 0 0 1" result="b"/><feComposite in="a" in2="b" operator="arithmetic" k2="1" k3="1" result="c"/><feComposite in="c" in2="c" operator="arithmetic" k1="4" k2="-2" k3="-2" k4="1"/><feColorMatrix values="0.840 0.840 0 0 0 0.840 0.840 0 0 0 0.840 0.840 0 0 0 0 0 0 0 1"/></filter><filter id="f108" x="0" y="0" width="1" height="1" color-interpolation-filters="sRGB"><feTurbulence type="fractalNoise" baseFrequency="0.0090 0.0916" numOctaves="1" seed="767" result="n1"/><feTurbulence type="fractalNoise" baseFrequency="0.0119 0.0785" numOctaves="1" seed="768" result="n2"/><feColorMatrix in="n1" values="1 0 0 0 0 0 0 0 0 0 0 0 0 0 0 0 0 0 0 1" result="a"/><feColorMatrix in="n2" values="0 0 0 0 0 1 0 0 0 0 0 0 0 0 0 0 0 0 0 1" result="b"/><feComposite in="a" in2="b" operator="arithmetic" k2="1" k3="1" result="c"/><feComposite in="c" in2="c" operator="arithmetic" k1="4" k2="-2" k3="-2" k4="1"/><feColorMatrix values="0.843 0.843 0 0 0 0.843 0.843 0 0 0 0.843 0.843 0 0 0 0 0 0 0 1"/></filter><filter id="f109" x="0" y="0" width="1" height="1" color-interpolation-filters="sRGB"><feTurbulence type="fractalNoise" baseFrequency="0.0086 0.0914" numOctaves="1" seed="774" result="n1"/><feTurbulence type="fractalNoise" baseFrequency="0.0113 0.0783" numOctaves="1" seed="775" result="n2"/><feColorMatrix in="n1" values="1 0 0 0 0 0 0 0 0 0 0 0 0 0 0 0 0 0 0 1" result="a"/><feColorMatrix in="n2" values="0 0 0 0 0 1 0 0 0 0 0 0 0 0 0 0 0 0 0 1" result="b"/><feComposite in="a" in2="b" operator="arithmetic" k2="1" k3="1" result="c"/><feComposite in="c" in2="c" operator="arithmetic" k1="4" k2="-2" k3="-2" k4="1"/><feColorMatrix values="0.845 0.845 0 0 0 0.845 0.845 0 0 0 0.845 0.845 0 0 0 0 0 0 0 1"/></filter><filter id="f110" x="0" y="0" width="1" height="1" color-interpolation-filters="sRGB"><feTurbulence type="fractalNoise" baseFrequency="0.0082 0.0912" numOctaves="1" seed="781" result="n1"/><feTurbulence type="fractalNoise" baseFrequency="0.0107 0.0781" numOctaves="1" seed="782" result="n2"/><feColorMatrix in="n1" values="1 0 0 0 0 0 0 0 0 0 0 0 0 0 0 0 0 0 0 1" result="a"/><feColorMatrix in="n2" values="0 0 0 0 0 1 0 0 0 0 0 0 0 0 0 0 0 0 0 1" result="b"/><feComposite in="a" in2="b" operator="arithmetic" k2="1" k3="1" result="c"/><feComposite in="c" in2="c" operator="arithmetic" k1="4" k2="-2" k3="-2" k4="1"/><feColorMatrix values="0.847 0.847 0 0 0 0.847 0.847 0 0 0 0.847 0.847 0 0 0 0 0 0 0 1"/></filter><filter id="f111" x="0" y="0" width="1" height="1" color-interpolation-filters="sRGB"><feTurbulence type="fractalNoise" baseFrequency="0.0078 0.0910" numOctaves="1" seed="788" result="n1"/><feTurbulence type="fractalNoise" baseFrequency="0.0102 0.0780" numOctaves="1" seed="789" result="n2"/><feColorMatrix in="n1" values="1 0 0 0 0 0 0 0 0 0 0 0 0 0 0 0 0 0 0 1" result="a"/><feColorMatrix in="n2" values="0 0 0 0 0 1 0 0 0 0 0 0 0 0 0 0 0 0 0 1" result="b"/><feComposite in="a" in2="b" operator="arithmetic" k2="1" k3="1" result="c"/><feComposite in="c" in2="c" operator="arithmetic" k1="4" k2="-2" k3="-2" k4="1"/><feColorMatrix values="0.849 0.849 0 0 0 0.849 0.849 0 0 0 0.849 0.849 0 0 0 0 0 0 0 1"/></filter><clipPath id="plotclip0"><rect x="133" y="73" width="769" height="445"/></clipPath></defs>
<rect x="133" y="73" width="769" height="445" fill="#35309a"/>
<g clip-path="url(#plotclip0)"><g filter="url(#cl)"><rect x="133" y="69" width="769" height="8" filter="url(#f0)" mask="url(#m)"/>
<rect x="133" y="73" width="769" height="8" filter="url(#f1)" mask="url(#m)"/>
<rect x="133" y="77" width="769" height="8" filter="url(#f2)" mask="url(#m)"/>
<rect x="133" y="81" width="769" height="8" filter="url(#f3)" mask="url(#m)"/>
<rect x="133" y="85" width="769" height="8" filter="url(#f4)" mask="url(#m)"/>
<rect x="133" y="89" width="769" height="8" filter="url(#f5)" mask="url(#m)"/>
<rect x="133" y="93" width="769" height="8" filter="url(#f6)" mask="url(#m)"/>
<rect x="133" y="97" width="769" height="8" filter="url(#f7)" mask="url(#m)"/>
<rect x="133" y="101" width="769" height="8" filter="url(#f8)" mask="url(#m)"/>
<rect x="133" y="105" width="769" height="8" filter="url(#f9)" mask="url(#m)"/>
<rect x="133" y="109" width="769" height="8" filter="url(#f10)" mask="url(#m)"/>
<rect x="133" y="113" width="769" height="8" filter="url(#f11)" mask="url(#m)"/>
<rect x="133" y="117" width="769" height="8" filter="url(#f12)" mask="url(#m)"/>
<rect x="133" y="121" width="769" height="8" filter="url(#f13)" mask="url(#m)"/>
<rect x="133" y="125" width="769" height="8" filter="url(#f14)" mask="url(#m)"/>
<rect x="133" y="129" width="769" height="8" filter="url(#f15)" mask="url(#m)"/>
<rect x="133" y="133" width="769" height="8" filter="url(#f16)" mask="url(#m)"/>
<rect x="133" y="137" width="769" height="8" filter="url(#f17)" mask="url(#m)"/>
<rect x="133" y="141" width="769" height="8" filter="url(#f18)" mask="url(#m)"/>
<rect x="133" y="145" width="769" height="8" filter="url(#f19)" mask="url(#m)"/>
<rect x="133" y="149" width="769" height="8" filter="url(#f20)" mask="url(#m)"/>
<rect x="133" y="153" width="769" height="8" filter="url(#f21)" mask="url(#m)"/>
<rect x="133" y="157" width="769" height="8" filter="url(#f22)" mask="url(#m)"/>
<rect x="133" y="161" width="769" height="8" filter="url(#f23)" mask="url(#m)"/>
<rect x="133" y="165" width="769" height="8" filter="url(#f24)" mask="url(#m)"/>
<rect x="133" y="169" width="769" height="8" filter="url(#f25)" mask="url(#m)"/>
<rect x="133" y="173" width="769" height="8" filter="url(#f26)" mask="url(#m)"/>
<rect x="133" y="177" width="769" height="8" filter="url(#f27)" mask="url(#m)"/>
<rect x="133" y="181" width="769" height="8" filter="url(#f28)" mask="url(#m)"/>
<rect x="133" y="185" width="769" height="8" filter="url(#f29)" mask="url(#m)"/>
<rect x="133" y="189" width="769" height="8" filter="url(#f30)" mask="url(#m)"/>
<rect x="133" y="193" width="769" height="8" filter="url(#f31)" mask="url(#m)"/>
<rect x="133" y="197" width="769" height="8" filter="url(#f32)" mask="url(#m)"/>
<rect x="133" y="201" width="769" height="8" filter="url(#f33)" mask="url(#m)"/>
<rect x="133" y="205" width="769" height="8" filter="url(#f34)" mask="url(#m)"/>
<rect x="133" y="209" width="769" height="8" filter="url(#f35)" mask="url(#m)"/>
<rect x="133" y="213" width="769" height="8" filter="url(#f36)" mask="url(#m)"/>
<rect x="133" y="217" width="769" height="8" filter="url(#f37)" mask="url(#m)"/>
<rect x="133" y="221" width="769" height="8" filter="url(#f38)" mask="url(#m)"/>
<rect x="133" y="225" width="769" height="8" filter="url(#f39)" mask="url(#m)"/>
<rect x="133" y="229" width="769" height="8" filter="url(#f40)" mask="url(#m)"/>
<rect x="133" y="233" width="769" height="8" filter="url(#f41)" mask="url(#m)"/>
<rect x="133" y="237" width="769" height="8" filter="url(#f42)" mask="url(#m)"/>
<rect x="133" y="241" width="769" height="8" filter="url(#f43)" mask="url(#m)"/>
<rect x="133" y="245" width="769" height="8" filter="url(#f44)" mask="url(#m)"/>
<rect x="133" y="249" width="769" height="8" filter="url(#f45)" mask="url(#m)"/>
<rect x="133" y="253" width="769" height="8" filter="url(#f46)" mask="url(#m)"/>
<rect x="133" y="257" width="769" height="8" filter="url(#f47)" mask="url(#m)"/>
<rect x="133" y="261" width="769" height="8" filter="url(#f48)" mask="url(#m)"/>
<rect x="133" y="265" width="769" height="8" filter="url(#f49)" mask="url(#m)"/>
<rect x="133" y="269" width="769" height="8" filter="url(#f50)" mask="url(#m)"/>
<rect x="133" y="273" width="769" height="8" filter="url(#f51)" mask="url(#m)"/>
<rect x="133" y="277" width="769" height="8" filter="url(#f52)" mask="url(#m)"/>
<rect x="133" y="281" width="769" height="8" filter="url(#f53)" mask="url(#m)"/>
<rect x="133" y="285" width="769" height="8" filter="url(#f54)" mask="url(#m)"/>
<rect x="133" y="289" width="769" height="8" filter="url(#f55)" mask="url(#m)"/>
<rect x="133" y="293" width="769" height="8" filter="url(#f56)" mask="url(#m)"/>
<rect x="133" y="297" width="769" height="8" filter="url(#f57)" mask="url(#m)"/>
<rect x="133" y="301" width="769" height="8" filter="url(#f58)" mask="url(#m)"/>
<rect x="133" y="305" width="769" height="8" filter="url(#f59)" mask="url(#m)"/>
<rect x="133" y="309" width="769" height="8" filter="url(#f60)" mask="url(#m)"/>
<rect x="133" y="313" width="769" height="8" filter="url(#f61)" mask="url(#m)"/>
<rect x="133" y="317" width="769" height="8" filter="url(#f62)" mask="url(#m)"/>
<rect x="133" y="321" width="769" height="8" filter="url(#f63)" mask="url(#m)"/>
<rect x="133" y="325" width="769" height="8" filter="url(#f64)" mask="url(#m)"/>
<rect x="133" y="329" width="769" height="8" filter="url(#f65)" mask="url(#m)"/>
<rect x="133" y="333" width="769" height="8" filter="url(#f66)" mask="url(#m)"/>
<rect x="133" y="337" width="769" height="8" filter="url(#f67)" mask="url(#m)"/>
<rect x="133" y="341" width="769" height="8" filter="url(#f68)" mask="url(#m)"/>
<rect x="133" y="345" width="769" height="8" filter="url(#f69)" mask="url(#m)"/>
<rect x="133" y="349" width="769" height="8" filter="url(#f70)" mask="url(#m)"/>
<rect x="133" y="353" width="769" height="8" filter="url(#f71)" mask="url(#m)"/>
<rect x="133" y="357" width="769" height="8" filter="url(#f72)" mask="url(#m)"/>
<rect x="133" y="361" width="769" height="8" filter="url(#f73)" mask="url(#m)"/>
<rect x="133" y="365" width="769" height="8" filter="url(#f74)" mask="url(#m)"/>
<rect x="133" y="369" width="769" height="8" filter="url(#f75)" mask="url(#m)"/>
<rect x="133" y="373" width="769" height="8" filter="url(#f76)" mask="url(#m)"/>
<rect x="133" y="377" width="769" height="8" filter="url(#f77)" mask="url(#m)"/>
<rect x="133" y="381" width="769" height="8" filter="url(#f78)" mask="url(#m)"/>
<rect x="133" y="385" width="769" height="8" filter="url(#f79)" mask="url(#m)"/>
<rect x="133" y="389" width="769" height="8" filter="url(#f80)" mask="url(#m)"/>
<rect x="133" y="393" width="769" height="8" filter="url(#f81)" mask="url(#m)"/>
<rect x="133" y="397" width="769" height="8" filter="url(#f82)" mask="url(#m)"/>
<rect x="133" y="401" width="769" height="8" filter="url(#f83)" mask="url(#m)"/>
<rect x="133" y="405" width="769" height="8" filter="url(#f84)" mask="url(#m)"/>
<rect x="133" y="409" width="769" height="8" filter="url(#f85)" mask="url(#m)"/>
<rect x="133" y="413" width="769" height="8" filter="url(#f86)" mask="url(#m)"/>
<rect x="133" y="417" width="769" height="8" filter="url(#f87)" mask="url(#m)"/>
<rect x="133" y="421" width="769" height="8" filter="url(#f88)" mask="url(#m)"/>
<rect x="133" y="425" width="769" height="8" filter="url(#f89)" mask="url(#m)"/>
<rect x="133" y="429" width="769" height="8" filter="url(#f90)" mask="url(#m)"/>
<rect x="133" y="433" width="769" height="8" filter="url(#f91)" mask="url(#m)"/>
<rect x="133" y="437" width="769" height="8" filter="url(#f92)" mask="url(#m)"/>
<rect x="133" y="441" width="769" height="8" filter="url(#f93)" mask="url(#m)"/>
<rect x="133" y="445" width="769" height="8" filter="url(#f94)" mask="url(#m)"/>
<rect x="133" y="449" width="769" height="8" filter="url(#f95)" mask="url(#m)"/>
<rect x="133" y="453" width="769" height="8" filter="url(#f96)" mask="url(#m)"/>
<rect x="133" y="457" width="769" height="8" filter="url(#f97)" mask="url(#m)"/>
<rect x="133" y="461" width="769" height="8" filter="url(#f98)" mask="url(#m)"/>
<rect x="133" y="465" width="769" height="8" filter="url(#f99)" mask="url(#m)"/>
<rect x="133" y="469" width="769" height="8" filter="url(#f100)" mask="url(#m)"/>
<rect x="133" y="473" width="769" height="8" filter="url(#f101)" mask="url(#m)"/>
<rect x="133" y="477" width="769" height="8" filter="url(#f102)" mask="url(#m)"/>
<rect x="133" y="481" width="769" height="8" filter="url(#f103)" mask="url(#m)"/>
<rect x="133" y="485" width="769" height="8" filter="url(#f104)" mask="url(#m)"/>
<rect x="133" y="489" width="769" height="8" filter="url(#f105)" mask="url(#m)"/>
<rect x="133" y="493" width="769" height="8" filter="url(#f106)" mask="url(#m)"/>
<rect x="133" y="497" width="769" height="8" filter="url(#f107)" mask="url(#m)"/>
<rect x="133" y="501" width="769" height="8" filter="url(#f108)" mask="url(#m)"/>
<rect x="133" y="505" width="769" height="8" filter="url(#f109)" mask="url(#m)"/>
<rect x="133" y="509" width="769" height="8" filter="url(#f110)" mask="url(#m)"/>
<rect x="133" y="513" width="769" height="5" filter="url(#f111)" mask="url(#m)"/></g></g><clipPath id="plotclip"><rect x="133" y="73" width="769" height="445"/></clipPath><defs><radialGradient id="g4"><stop offset="0.000" stop-color="#046ce0" stop-opacity="1.00"/><stop offset="0.050" stop-color="#046ce0" stop-opacity="1.00"/><stop offset="0.100" stop-color="#036be0" stop-opacity="1.00"/><stop offset="0.150" stop-color="#036ae1" stop-opacity="0.99"/><stop offset="0.200" stop-color="#0268e1" stop-opacity="0.98"/><stop offset="0.250" stop-color="#0266e1" stop-opacity="0.95"/><stop offset="0.300" stop-color="#0364e1" stop-opacity="0.90"/><stop offset="0.350" stop-color="#0760e0" stop-opacity="0.84"/><stop offset="0.400" stop-color="#0a5edf" stop-opacity="0.75"/><stop offset="0.450" stop-color="#0a5edf" stop-opacity="0.66"/><stop offset="0.500" stop-color="#0a5edf" stop-opacity="0.55"/><stop offset="0.550" stop-color="#0a5edf" stop-opacity="0.45"/><stop offset="0.600" stop-color="#0a5edf" stop-opacity="0.35"/><stop offset="0.650" stop-color="#0a5edf" stop-opacity="0.26"/><stop offset="0.700" stop-color="#0a5edf" stop-opacity="0.18"/><stop offset="0.750" stop-color="#0a5edf" stop-opacity="0.12"/><stop offset="0.800" stop-color="#0a5edf" stop-opacity="0.07"/><stop offset="0.850" stop-color="#0a5edf" stop-opacity="0.03"/><stop offset="0.900" stop-color="#0a5edf" stop-opacity="0.01"/><stop offset="0.950" stop-color="#0a5edf" stop-opacity="0.00"/><stop offset="1.000" stop-color="#0a5edf" stop-opacity="0.00"/></radialGradient><radialGradient id="g5"><stop offset="0.000" stop-color="#0e76dc" stop-opacity="1.00"/><stop offset="0.050" stop-color="#0d76dc" stop-opacity="1.00"/><stop offset="0.100" stop-color="#0d75dc" stop-opacity="1.00"/><stop offset="0.150" stop-color="#0b74dd" stop-opacity="1.00"/><stop offset="0.200" stop-color="#0972de" stop-opacity="1.00"/><stop offset="0.250" stop-color="#0770df" stop-opacity="1.00"/><stop offset="0.300" stop-color="#046de0" stop-opacity="1.00"/><stop offset="0.350" stop-color="#0269e1" stop-opacity="0.99"/><stop offset="0.400" stop-color="#0266e1" stop-opacity="0.94"/><stop offset="0.450" stop-color="#0661e0" stop-opacity="0.85"/><stop offset="0.500" stop-color="#0a5edf" stop-opacity="0.73"/><stop offset="0.550" stop-color="#0a5edf" stop-opacity="0.60"/><stop offset="0.600" stop-color="#0a5edf" stop-opacity="0.47"/><stop offset="0.650" stop-color="#0a5edf" stop-opacity="0.35"/><stop offset="0.700" stop-color="#0a5edf" stop-opacity="0.24"/><stop offset="0.750" stop-color="#0a5edf" stop-opacity="0.15"/><stop offset="0.800" stop-color="#0a5edf" stop-opacity="0.09"/><stop offset="0.850" stop-color="#0a5edf" stop-opacity="0.04"/><stop offset="0.900" stop-color="#0a5edf" stop-opacity="0.02"/><stop offset="0.950" stop-color="#0a5edf" stop-opacity="0.00"/><stop offset="1.000" stop-color="#0a5edf" stop-opacity="0.00"/></radialGradient><radialGradient id="g6"><stop offset="0.000" stop-color="#1480d6" stop-opacity="1.00"/><stop offset="0.050" stop-color="#137fd6" stop-opacity="1.00"/><stop offset="0.100" stop-color="#137ed7" stop-opacity="1.00"/><stop offset="0.150" stop-color="#127cd8" stop-opacity="1.00"/><stop offset="0.200" stop-color="#117ad9" stop-opacity="1.00"/><stop offset="0.250" stop-color="#0f77db" stop-opacity="1.00"/><stop offset="0.300" stop-color="#0c74dd" stop-opacity="1.00"/><stop offset="0.350" stop-color="#0871df" stop-opacity="1.00"/><stop offset="0.400" stop-color="#046ce0" stop-opacity="1.00"/><stop offset="0.450" stop-color="#0268e1" stop-opacity="0.97"/><stop offset="0.500" stop-color="#0462e1" stop-opacity="0.87"/><stop offset="0.550" stop-color="#0a5edf" stop-opacity="0.74"/><stop offset="0.600" stop-color="#0a5edf" stop-opacity="0.59"/><stop offset="0.650" stop-color="#0a5edf" stop-opacity="0.44"/><stop offset="0.700" stop-color="#0a5edf" stop-opacity="0.30"/><stop offset="0.750" stop-color="#0a5edf" stop-opacity="0.19"/><stop offset="0.800" stop-color="#0a5edf" stop-opacity="0.11"/><stop offset="0.850" stop-color="#0a5edf" stop-opacity="0.05"/><stop offset="0.900" stop-color="#0a5edf" stop-opacity="0.02"/><stop offset="0.950" stop-color="#0a5edf" stop-opacity="0.00"/><stop offset="1.000" stop-color="#0a5edf" stop-opacity="0.00"/></radialGradient><radialGradient id="g7"><stop offset="0.000" stop-color="#128ad3" stop-opacity="1.00"/><stop offset="0.050" stop-color="#138ad3" stop-opacity="1.00"/><stop offset="0.100" stop-color="#1388d3" stop-opacity="1.00"/><stop offset="0.150" stop-color="#1486d4" stop-opacity="1.00"/><stop offset="0.200" stop-color="#1483d5" stop-opacity="1.00"/><stop offset="0.250" stop-color="#137fd7" stop-opacity="1.00"/><stop offset="0.300" stop-color="#117bd9" stop-opacity="1.00"/><stop offset="0.350" stop-color="#0e77db" stop-opacity="1.00"/><stop offset="0.400" stop-color="#0a72de" stop-opacity="1.00"/><stop offset="0.450" stop-color="#056de0" stop-opacity="1.00"/><stop offset="0.500" stop-color="#0268e1" stop-opacity="0.97"/><stop offset="0.550" stop-color="#0661e0" stop-opacity="0.85"/><stop offset="0.600" stop-color="#0a5edf" stop-opacity="0.69"/><stop offset="0.650" stop-color="#0a5edf" stop-opacity="0.52"/><stop offset="0.700" stop-color="#0a5edf" stop-opacity="0.36"/><stop offset="0.750" stop-color="#0a5edf" stop-opacity="0.23"/><stop offset="0.800" stop-color="#0a5edf" stop-opacity="0.13"/><stop offset="0.850" stop-color="#0a5edf" stop-opacity="0.06"/><stop offset="0.900" stop-color="#0a5edf" stop-opacity="0.02"/><stop offset="0.950" stop-color="#0a5edf" stop-opacity="0.01"/><stop offset="1.000" stop-color="#0a5edf" stop-opacity="0.00"/></radialGradient><radialGradient id="g8"><stop offset="0.000" stop-color="#0a97d1" stop-opacity="1.00"/><stop offset="0.050" stop-color="#0a96d1" stop-opacity="1.00"/><stop offset="0.100" stop-color="#0c94d2" stop-opacity="1.00"/><stop offset="0.150" stop-color="#0e91d2" stop-opacity="1.00"/><stop offset="0.200" stop-color="#118cd2" stop-opacity="1.00"/><stop offset="0.250" stop-color="#1487d3" stop-opacity="1.00"/><stop offset="0.300" stop-color="#1482d5" stop-opacity="1.00"/><stop offset="0.350" stop-color="#127dd8" stop-opacity="1.00"/><stop offset="0.400" stop-color="#0f77db" stop-opacity="1.00"/><stop offset="0.450" stop-color="#0972de" stop-opacity="1.00"/><stop offset="0.500" stop-color="#046ce0" stop-opacity="1.00"/><stop offset="0.550" stop-color="#0266e1" stop-opacity="0.94"/><stop offset="0.600" stop-color="#0a5edf" stop-opacity="0.78"/><stop offset="0.650" stop-color="#0a5edf" stop-opacity="0.60"/><stop offset="0.700" stop-color="#0a5edf" stop-opacity="0.42"/><stop offset="0.750" stop-color="#0a5edf" stop-opacity="0.27"/><stop offset="0.800" stop-color="#0a5edf" stop-opacity="0.15"/><stop offset="0.850" stop-color="#0a5edf" stop-opacity="0.07"/><stop offset="0.900" stop-color="#0a5edf" stop-opacity="0.03"/><stop offset="0.950" stop-color="#0a5edf" stop-opacity="0.01"/><stop offset="1.000" stop-color="#0a5edf" stop-opacity="0.00"/></radialGradient><radialGradient id="g9"><stop offset="0.000" stop-color="#06a1cc" stop-opacity="1.00"/><stop offset="0.050" stop-color="#06a0cd" stop-opacity="1.00"/><stop offset="0.100" stop-color="#069ece" stop-opacity="1.00"/><stop offset="0.150" stop-color="#079bd0" stop-opacity="1.00"/><stop offset="0.200" stop-color="#0a97d1" stop-opacity="1.00"/><stop offset="0.250" stop-color="#0e91d2" stop-opacity="1.00"/><stop offset="0.300" stop-color="#1389d3" stop-opacity="1.00"/><stop offset="0.350" stop-color="#1483d5" stop-opacity="1.00"/><stop offset="0.400" stop-color="#127cd8" stop-opacity="1.00"/><stop offset="0.450" stop-color="#0e76dc" stop-opacity="1.00"/><stop offset="0.500" stop-color="#0770df" stop-opacity="1.00"/><stop offset="0.550" stop-color="#0269e1" stop-opacity="0.99"/><stop offset="0.600" stop-color="#0562e0" stop-opacity="0.86"/><stop offset="0.650" stop-color="#0a5edf" stop-opacity="0.67"/><stop offset="0.700" stop-color="#0a5edf" stop-opacity="0.47"/><stop offset="0.750" stop-color="#0a5edf" stop-opacity="0.30"/><stop offset="0.800" stop-color="#0a5edf" stop-opacity="0.17"/><stop offset="0.850" stop-color="#0a5edf" stop-opacity="0.08"/><stop offset="0.900" stop-color="#0a5edf" stop-opacity="0.03"/><stop offset="0.950" stop-color="#0a5edf" stop-opacity="0.01"/><stop offset="1.000" stop-color="#0a5edf" stop-opacity="0.00"/></radialGradient><radialGradient id="g10"><stop offset="0.000" stop-color="#06a8c4" stop-opacity="1.00"/><stop offset="0.050" stop-color="#06a8c4" stop-opacity="1.00"/><stop offset="0.100" stop-color="#06a6c7" stop-opacity="1.00"/><stop offset="0.150" stop-color="#06a4ca" stop-opacity="1.00"/><stop offset="0.200" stop-color="#06a0cd" stop-opacity="1.00"/><stop offset="0.250" stop-color="#089ad0" stop-opacity="1.00"/><stop offset="0.300" stop-color="#0d92d2" stop-opacity="1.00"/><stop offset="0.350" stop-color="#1389d3" stop-opacity="1.00"/><stop offset="0.400" stop-color="#1481d5" stop-opacity="1.00"/><stop offset="0.450" stop-color="#117ad9" stop-opacity="1.00"/><stop offset="0.500" stop-color="#0b73dd" stop-opacity="1.00"/><stop offset="0.550" stop-color="#046de0" stop-opacity="1.00"/><stop offset="0.600" stop-color="#0265e1" stop-opacity="0.92"/><stop offset="0.650" stop-color="#0a5edf" stop-opacity="0.74"/><stop offset="0.700" stop-color="#0a5edf" stop-opacity="0.52"/><stop offset="0.750" stop-color="#0a5edf" stop-opacity="0.33"/><stop offset="0.800" stop-color="#0a5edf" stop-opacity="0.19"/><stop offset="0.850" stop-color="#0a5edf" stop-opacity="0.09"/><stop offset="0.900" stop-color="#0a5edf" stop-opacity="0.03"/><stop offset="0.950" stop-color="#0a5edf" stop-opacity="0.01"/><stop offset="1.000" stop-color="#0a5edf" stop-opacity="0.00"/></radialGradient><radialGradient id="g11"><stop offset="0.000" stop-color="#0fafb9" stop-opacity="1.00"/><stop offset="0.050" stop-color="#0eaeba" stop-opacity="1.00"/><stop offset="0.100" stop-color="#0badbc" stop-opacity="1.00"/><stop offset="0.150" stop-color="#08aac1" stop-opacity="1.00"/><stop offset="0.200" stop-color="#06a6c6" stop-opacity="1.00"/><stop offset="0.250" stop-color="#06a1cc" stop-opacity="1.00"/><stop offset="0.300" stop-color="#089ad0" stop-opacity="1.00"/><stop offset="0.350" stop-color="#0e91d2" stop-opacity="1.00"/><stop offset="0.400" stop-color="#1487d3" stop-opacity="1.00"/><stop offset="0.450" stop-color="#137ed7" stop-opacity="1.00"/><stop offset="0.500" stop-color="#0e77db" stop-opacity="1.00"/><stop offset="0.550" stop-color="#076fdf" stop-opacity="1.00"/><stop offset="0.600" stop-color="#0268e1" stop-opacity="0.97"/><stop offset="0.650" stop-color="#0a5edf" stop-opacity="0.79"/><stop offset="0.700" stop-color="#0a5edf" stop-opacity="0.57"/><stop offset="0.750" stop-color="#0a5edf" stop-opacity="0.37"/><stop offset="0.800" stop-color="#0a5edf" stop-opacity="0.21"/><stop offset="0.850" stop-color="#0a5edf" stop-opacity="0.10"/><stop offset="0.900" stop-color="#0a5edf" stop-opacity="0.04"/><stop offset="0.950" stop-color="#0a5edf" stop-opacity="0.01"/><stop offset="1.000" stop-color="#0a5edf" stop-opacity="0.00"/></radialGradient><radialGradient id="g13"><stop offset="0.000" stop-color="#37b99e" stop-opacity="1.00"/><stop offset="0.050" stop-color="#35b89f" stop-opacity="1.00"/><stop offset="0.100" stop-color="#2eb7a4" stop-opacity="1.00"/><stop offset="0.150" stop-color="#23b4ab" stop-opacity="1.00"/><stop offset="0.200" stop-color="#16b1b4" stop-opacity="1.00"/><stop offset="0.250" stop-color="#0aacbd" stop-opacity="1.00"/><stop offset="0.300" stop-color="#06a6c7" stop-opacity="1.00"/><stop offset="0.350" stop-color="#069ece" stop-opacity="1.00"/><stop offset="0.400" stop-color="#0c93d2" stop-opacity="1.00"/><stop offset="0.450" stop-color="#1487d3" stop-opacity="1.00"/><stop offset="0.500" stop-color="#137dd8" stop-opacity="1.00"/><stop offset="0.550" stop-color="#0c75dc" stop-opacity="1.00"/><stop offset="0.600" stop-color="#046ce0" stop-opacity="1.00"/><stop offset="0.650" stop-color="#0363e1" stop-opacity="0.89"/><stop offset="0.700" stop-color="#0a5edf" stop-opacity="0.66"/><stop offset="0.750" stop-color="#0a5edf" stop-opacity="0.43"/><stop offset="0.800" stop-color="#0a5edf" stop-opacity="0.24"/><stop offset="0.850" stop-color="#0a5edf" stop-opacity="0.11"/><stop offset="0.900" stop-color="#0a5edf" stop-opacity="0.04"/><stop offset="0.950" stop-color="#0a5edf" stop-opacity="0.01"/><stop offset="1.000" stop-color="#0a5edf" stop-opacity="0.00"/></radialGradient><radialGradient id="g14"><stop offset="0.000" stop-color="#52bd8f" stop-opacity="1.00"/><stop offset="0.050" stop-color="#4fbc91" stop-opacity="1.00"/><stop offset="0.100" stop-color="#46bb96" stop-opacity="1.00"/><stop offset="0.150" stop-color="#37b99e" stop-opacity="1.00"/><stop offset="0.200" stop-color="#26b5a9" stop-opacity="1.00"/><stop offset="0.250" stop-color="#15b1b4" stop-opacity="1.00"/><stop offset="0.300" stop-color="#08abc0" stop-opacity="1.00"/><stop offset="0.350" stop-color="#06a3ca" stop-opacity="1.00"/><stop offset="0.400" stop-color="#0899d1" stop-opacity="1.00"/><stop offset="0.450" stop-color="#128cd2" stop-opacity="1.00"/><stop offset="0.500" stop-color="#1480d6" stop-opacity="1.00"/><stop offset="0.550" stop-color="#0f77db" stop-opacity="1.00"/><stop offset="0.600" stop-color="#066edf" stop-opacity="1.00"/><stop offset="0.650" stop-color="#0265e1" stop-opacity="0.93"/><stop offset="0.700" stop-color="#0a5edf" stop-opacity="0.70"/><stop offset="0.750" stop-color="#0a5edf" stop-opacity="0.46"/><stop offset="0.800" stop-color="#0a5edf" stop-opacity="0.26"/><stop offset="0.850" stop-color="#0a5edf" stop-opacity="0.12"/><stop offset="0.900" stop-color="#0a5edf" stop-opacity="0.04"/><stop offset="0.950" stop-color="#0a5edf" stop-opacity="0.01"/><stop offset="1.000" stop-color="#0a5edf" stop-opacity="0.00"/></radialGradient><radialGradient id="g16"><stop offset="0.000" stop-color="#8bbf75" stop-opacity="1.00"/><stop offset="0.050" stop-color="#88bf77" stop-opacity="1.00"/><stop offset="0.100" stop-color="#7dbf7b" stop-opacity="1.00"/><stop offset="0.150" stop-color="#6abe83" stop-opacity="1.00"/><stop offset="0.200" stop-color="#50bc90" stop-opacity="1.00"/><stop offset="0.250" stop-color="#35b8a0" stop-opacity="1.00"/><stop offset="0.300" stop-color="#1cb2b0" stop-opacity="1.00"/><stop offset="0.350" stop-color="#09abbf" stop-opacity="1.00"/><stop offset="0.400" stop-color="#06a2cb" stop-opacity="1.00"/><stop offset="0.450" stop-color="#0b96d1" stop-opacity="1.00"/><stop offset="0.500" stop-color="#1487d3" stop-opacity="1.00"/><stop offset="0.550" stop-color="#127cd8" stop-opacity="1.00"/><stop offset="0.600" stop-color="#0a72de" stop-opacity="1.00"/><stop offset="0.650" stop-color="#0269e1" stop-opacity="0.98"/><stop offset="0.700" stop-color="#0a5edf" stop-opacity="0.78"/><stop offset="0.750" stop-color="#0a5edf" stop-opacity="0.51"/><stop offset="0.800" stop-color="#0a5edf" stop-opacity="0.29"/><stop offset="0.850" stop-color="#0a5edf" stop-opacity="0.14"/><stop offset="0.900" stop-color="#0a5edf" stop-opacity="0.05"/><stop offset="0.950" stop-color="#0a5edf" stop-opacity="0.01"/><stop offset="1.000" stop-color="#0a5edf" stop-opacity="0.00"/></radialGradient><radialGradient id="g18"><stop offset="0.000" stop-color="#babd63" stop-opacity="1.00"/><stop offset="0.050" stop-color="#b6bd64" stop-opacity="1.00"/><stop offset="0.100" stop-color="#acbe68" stop-opacity="1.00"/><stop offset="0.150" stop-color="#9abf6f" stop-opacity="1.00"/><stop offset="0.200" stop-color="#80bf7a" stop-opacity="1.00"/><stop offset="0.250" stop-color="#5ebe89" stop-opacity="1.00"/><stop offset="0.300" stop-color="#38b99d" stop-opacity="1.00"/><stop offset="0.350" stop-color="#1ab2b1" stop-opacity="1.00"/><stop offset="0.400" stop-color="#07a9c2" stop-opacity="1.00"/><stop offset="0.450" stop-color="#069ece" stop-opacity="1.00"/><stop offset="0.500" stop-color="#108ed2" stop-opacity="1.00"/><stop offset="0.550" stop-color="#1480d6" stop-opacity="1.00"/><stop offset="0.600" stop-color="#0d76dc" stop-opacity="1.00"/><stop offset="0.650" stop-color="#046ce0" stop-opacity="1.00"/><stop offset="0.700" stop-color="#0760e0" stop-opacity="0.84"/><stop offset="0.750" stop-color="#0a5edf" stop-opacity="0.56"/><stop offset="0.800" stop-color="#0a5edf" stop-opacity="0.32"/><stop offset="0.850" stop-color="#0a5edf" stop-opacity="0.15"/><stop offset="0.900" stop-color="#0a5edf" stop-opacity="0.05"/><stop offset="0.950" stop-color="#0a5edf" stop-opacity="0.01"/><stop offset="1.000" stop-color="#0a5edf" stop-opacity="0.00"/></radialGradient><radialGradient id="g19"><stop offset="0.000" stop-color="#cfbb5a" stop-opacity="1.00"/><stop offset="0.050" stop-color="#cbbb5b" stop-opacity="1.00"/><stop offset="0.100" stop-color="#c1bc60" stop-opacity="1.00"/><stop offset="0.150" stop-color="#afbe67" stop-opacity="1.00"/><stop offset="0.200" stop-color="#96bf71" stop-opacity="1.00"/><stop offset="0.250" stop-color="#74bf7f" stop-opacity="1.00"/><stop offset="0.300" stop-color="#4abc93" stop-opacity="1.00"/><stop offset="0.350" stop-color="#25b5aa" stop-opacity="1.00"/><stop offset="0.400" stop-color="#0aacbd" stop-opacity="1.00"/><stop offset="0.450" stop-color="#06a2cc" stop-opacity="1.00"/><stop offset="0.500" stop-color="#0d92d2" stop-opacity="1.00"/><stop offset="0.550" stop-color="#1483d5" stop-opacity="1.00"/><stop offset="0.600" stop-color="#0f77db" stop-opacity="1.00"/><stop offset="0.650" stop-color="#046de0" stop-opacity="1.00"/><stop offset="0.700" stop-color="#0562e0" stop-opacity="0.87"/><stop offset="0.750" stop-color="#0a5edf" stop-opacity="0.59"/><stop offset="0.800" stop-color="#0a5edf" stop-opacity="0.33"/><stop offset="0.850" stop-color="#0a5edf" stop-opacity="0.16"/><stop offset="0.900" stop-color="#0a5edf" stop-opacity="0.05"/><stop offset="0.950" stop-color="#0a5edf" stop-opacity="0.01"/><stop offset="1.000" stop-color="#0a5edf" stop-opacity="0.00"/></radialGradient><radialGradient id="g22"><stop offset="0.000" stop-color="#ffc436" stop-opacity="1.00"/><stop offset="0.050" stop-color="#fec139" stop-opacity="1.00"/><stop offset="0.100" stop-color="#f9bb43" stop-opacity="1.00"/><stop offset="0.150" stop-color="#e7b94f" stop-opacity="1.00"/><stop offset="0.200" stop-color="#cdbb5b" stop-opacity="1.00"/><stop offset="0.250" stop-color="#acbe68" stop-opacity="1.00"/><stop offset="0.300" stop-color="#82bf79" stop-opacity="1.00"/><stop offset="0.350" stop-color="#4ebc91" stop-opacity="1.00"/><stop offset="0.400" stop-color="#21b4ac" stop-opacity="1.00"/><stop offset="0.450" stop-color="#07aac1" stop-opacity="1.00"/><stop offset="0.500" stop-color="#079dcf" stop-opacity="1.00"/><stop offset="0.550" stop-color="#128ad3" stop-opacity="1.00"/><stop offset="0.600" stop-color="#127cd8" stop-opacity="1.00"/><stop offset="0.650" stop-color="#0871de" stop-opacity="1.00"/><stop offset="0.700" stop-color="#0265e1" stop-opacity="0.93"/><stop offset="0.750" stop-color="#0a5edf" stop-opacity="0.66"/><stop offset="0.800" stop-color="#0a5edf" stop-opacity="0.37"/><stop offset="0.850" stop-color="#0a5edf" stop-opacity="0.17"/><stop offset="0.900" stop-color="#0a5edf" stop-opacity="0.06"/><stop offset="0.950" stop-color="#0a5edf" stop-opacity="0.01"/><stop offset="1.000" stop-color="#0a5edf" stop-opacity="0.00"/></radialGradient><radialGradient id="g26"><stop offset="0.000" stop-color="#f9fb0e" stop-opacity="1.00"/><stop offset="0.050" stop-color="#f9fb0e" stop-opacity="1.00"/><stop offset="0.100" stop-color="#f6ef16" stop-opacity="1.00"/><stop offset="0.150" stop-color="#f6db23" stop-opacity="1.00"/><stop offset="0.200" stop-color="#fec634" stop-opacity="1.00"/><stop offset="0.250" stop-color="#e9b94e" stop-opacity="1.00"/><stop offset="0.300" stop-color="#bebc61" stop-opacity="1.00"/><stop offset="0.350" stop-color="#8cbf75" stop-opacity="1.00"/><stop offset="0.400" stop-color="#4dbc92" stop-opacity="1.00"/><stop offset="0.450" stop-color="#1bb2b0" stop-opacity="1.00"/><stop offset="0.500" stop-color="#06a6c7" stop-opacity="1.00"/><stop offset="0.550" stop-color="#0b95d2" stop-opacity="1.00"/><stop offset="0.600" stop-color="#1482d5" stop-opacity="1.00"/><stop offset="0.650" stop-color="#0d75dc" stop-opacity="1.00"/><stop offset="0.700" stop-color="#0269e1" stop-opacity="0.99"/><stop offset="0.750" stop-color="#0a5edf" stop-opacity="0.73"/><stop offset="0.800" stop-color="#0a5edf" stop-opacity="0.42"/><stop offset="0.850" stop-color="#0a5edf" stop-opacity="0.20"/><stop offset="0.900" stop-color="#0a5edf" stop-opacity="0.07"/><stop offset="0.950" stop-color="#0a5edf" stop-opacity="0.01"/><stop offset="1.000" stop-color="#0a5edf" stop-opacity="0.00"/></radialGradient><radialGradient id="g70"><stop offset="0.000" stop-color="#f9fb0e" stop-opacity="1.00"/><stop offset="0.050" stop-color="#f9fb0e" stop-opacity="1.00"/><stop offset="0.100" stop-color="#f9fb0e" stop-opacity="1.00"/><stop offset="0.150" stop-color="#f9fb0e" stop-opacity="1.00"/><stop offset="0.200" stop-color="#f9fb0e" stop-opacity="1.00"/><stop offset="0.250" stop-color="#f9fb0e" stop-opacity="1.00"/><stop offset="0.300" stop-color="#f9fb0e" stop-opacity="1.00"/><stop offset="0.350" stop-color="#f9fb0e" stop-opacity="1.00"/><stop offset="0.400" stop-color="#f9fb0e" stop-opacity="1.00"/><stop offset="0.450" stop-color="#f9fb0e" stop-opacity="1.00"/><stop offset="0.500" stop-color="#eab94e" stop-opacity="1.00"/><stop offset="0.550" stop-color="#83bf79" stop-opacity="1.00"/><stop offset="0.600" stop-color="#1eb3ae" stop-opacity="1.00"/><stop offset="0.650" stop-color="#079ecf" stop-opacity="1.00"/><stop offset="0.700" stop-color="#1482d5" stop-opacity="1.00"/><stop offset="0.750" stop-color="#0770df" stop-opacity="1.00"/><stop offset="0.800" stop-color="#0a5edf" stop-opacity="0.79"/><stop offset="0.850" stop-color="#0a5edf" stop-opacity="0.38"/><stop offset="0.900" stop-color="#0a5edf" stop-opacity="0.13"/><stop offset="0.950" stop-color="#0a5edf" stop-opacity="0.02"/><stop offset="1.000" stop-color="#0a5edf" stop-opacity="0.00"/></radialGradient><radialGradient id="g90"><stop offset="0.000" stop-color="#f9fb0e" stop-opacity="1.00"/><stop offset="0.050" stop-color="#f9fb0e" stop-opacity="1.00"/><stop offset="0.100" stop-color="#f9fb0e" stop-opacity="1.00"/><stop offset="0.150" stop-color="#f9fb0e" stop-opacity="1.00"/><stop offset="0.200" stop-color="#f9fb0e" stop-opacity="1.00"/><stop offset="0.250" stop-color="#f9fb0e" stop-opacity="1.00"/><stop offset="0.300" stop-color="#f9fb0e" stop-opacity="1.00"/><stop offset="0.350" stop-color="#f9fb0e" stop-opacity="1.00"/><stop offset="0.400" stop-color="#f9fb0e" stop-opacity="1.00"/><stop offset="0.450" stop-color="#f9fb0e" stop-opacity="1.00"/><stop offset="0.500" stop-color="#f5e71b" stop-opacity="1.00"/><stop offset="0.550" stop-color="#c9bc5d" stop-opacity="1.00"/><stop offset="0.600" stop-color="#4fbc91" stop-opacity="1.00"/><stop offset="0.650" stop-color="#06a9c3" stop-opacity="1.00"/><stop offset="0.700" stop-color="#128bd2" stop-opacity="1.00"/><stop offset="0.750" stop-color="#0c75dc" stop-opacity="1.00"/><stop offset="0.800" stop-color="#0363e1" stop-opacity="0.88"/><stop offset="0.850" stop-color="#0a5edf" stop-opacity="0.44"/><stop offset="0.900" stop-color="#0a5edf" stop-opacity="0.15"/><stop offset="0.950" stop-color="#0a5edf" stop-opacity="0.02"/><stop offset="1.000" stop-color="#0a5edf" stop-opacity="0.00"/></radialGradient></defs>
<g clip-path="url(#plotclip)"><ellipse cx="263" cy="413.75" rx="32.0" ry="4.6" fill="url(#g4)"/>
<ellipse cx="323" cy="471" rx="57.6" ry="4.6" fill="url(#g4)"/>
<ellipse cx="358" cy="445" rx="32.0" ry="4.6" fill="url(#g4)"/>
<ellipse cx="700.5" cy="475" rx="25.6" ry="4.6" fill="url(#g4)"/>
<ellipse cx="775.5" cy="448.75" rx="28.8" ry="4.6" fill="url(#g4)"/>
<ellipse cx="790" cy="505" rx="32.0" ry="4.6" fill="url(#g4)"/>
<ellipse cx="183" cy="423" rx="25.6" ry="4.6" fill="url(#g5)"/>
<ellipse cx="253" cy="448.75" rx="25.6" ry="4.6" fill="url(#g5)"/>
<ellipse cx="365.5" cy="496" rx="32.0" ry="4.6" fill="url(#g5)"/>
<ellipse cx="460.5" cy="415" rx="22.400000000000002" ry="5.75" fill="url(#g5)"/>
<ellipse cx="455.5" cy="433.75" rx="25.6" ry="4.6" fill="url(#g5)"/>
<ellipse cx="598" cy="406" rx="19.200000000000003" ry="4.6" fill="url(#g5)"/>
<ellipse cx="578" cy="435" rx="25.6" ry="4.6" fill="url(#g5)"/>
<ellipse cx="598" cy="427.5" rx="22.400000000000002" ry="4.6" fill="url(#g5)"/>
<ellipse cx="565.5" cy="455" rx="25.6" ry="4.6" fill="url(#g5)"/>
<ellipse cx="523" cy="460" rx="28.8" ry="4.6" fill="url(#g5)"/>
<ellipse cx="390" cy="496" rx="40.0" ry="4.6" fill="url(#g5)"/>
<ellipse cx="738" cy="421" rx="25.6" ry="4.6" fill="url(#g5)"/>
<ellipse cx="663" cy="463.75" rx="25.6" ry="5.75" fill="url(#g5)"/>
<ellipse cx="775.5" cy="505" rx="56.0" ry="4.6" fill="url(#g5)"/>
<ellipse cx="825.5" cy="452.5" rx="35.2" ry="4.6" fill="url(#g5)"/>
<ellipse cx="638" cy="420" rx="40.0" ry="4.6" fill="url(#g5)"/>
<ellipse cx="625.5" cy="435" rx="25.6" ry="4.6" fill="url(#g5)"/>
<ellipse cx="700" cy="403" rx="25.6" ry="4.6" fill="url(#g5)"/>
<ellipse cx="868.7" cy="419" rx="22.400000000000002" ry="4.6" fill="url(#g5)"/>
<ellipse cx="788.7" cy="430.8" rx="19.200000000000003" ry="4.6" fill="url(#g5)"/>
<ellipse cx="887" cy="430" rx="24.0" ry="4.6" fill="url(#g5)"/>
<ellipse cx="827" cy="452.5" rx="38.400000000000006" ry="4.6" fill="url(#g5)"/>
<ellipse cx="868.7" cy="450" rx="24.0" ry="4.6" fill="url(#g5)"/>
<ellipse cx="545" cy="471" rx="25" ry="4" fill="url(#g5)"/>
<ellipse cx="233" cy="432.5" rx="25.6" ry="5.75" fill="url(#g6)"/>
<ellipse cx="155.5" cy="467" rx="48.0" ry="5.75" fill="url(#g6)"/>
<ellipse cx="328" cy="418.75" rx="32.0" ry="5.75" fill="url(#g6)"/>
<ellipse cx="410.5" cy="446" rx="40.0" ry="5.75" fill="url(#g6)"/>
<ellipse cx="423" cy="502.5" rx="72.0" ry="5.75" fill="url(#g6)"/>
<ellipse cx="758" cy="473.75" rx="32.0" ry="5.75" fill="url(#g6)"/>
<ellipse cx="850" cy="501" rx="64.0" ry="5.75" fill="url(#g6)"/>
<ellipse cx="820" cy="430" rx="28.8" ry="5.75" fill="url(#g6)"/>
<ellipse cx="176.75" cy="310" rx="12.8" ry="5.75" fill="url(#g6)"/>
<ellipse cx="443" cy="326" rx="9.600000000000001" ry="4.6" fill="url(#g6)"/>
<ellipse cx="455.5" cy="337.5" rx="9.600000000000001" ry="4.6" fill="url(#g6)"/>
<ellipse cx="503" cy="347.5" rx="9.600000000000001" ry="4.6" fill="url(#g6)"/>
<ellipse cx="794.5" cy="349" rx="16.0" ry="4.6" fill="url(#g6)"/>
<ellipse cx="590" cy="495" rx="88.0" ry="5.75" fill="url(#g7)"/>
<ellipse cx="725.5" cy="428.75" rx="25.6" ry="5.75" fill="url(#g7)"/>
<ellipse cx="862" cy="470.8" rx="25.6" ry="6.8999999999999995" fill="url(#g7)"/>
<ellipse cx="573" cy="308.75" rx="12.8" ry="4.6" fill="url(#g7)"/>
<ellipse cx="590" cy="495" rx="60" ry="4" fill="url(#g7)"/>
<ellipse cx="141.75" cy="421" rx="22.400000000000002" ry="6.8999999999999995" fill="url(#g8)"/>
<ellipse cx="293" cy="485" rx="60.800000000000004" ry="6.8999999999999995" fill="url(#g8)"/>
<ellipse cx="882" cy="414" rx="28.8" ry="5.75" fill="url(#g8)"/>
<ellipse cx="293" cy="383.75" rx="19.200000000000003" ry="5.75" fill="url(#g8)"/>
<ellipse cx="245.5" cy="307.5" rx="9.600000000000001" ry="6.8999999999999995" fill="url(#g9)"/>
<ellipse cx="892" cy="306.7" rx="8.0" ry="4.6" fill="url(#g9)"/>
<ellipse cx="868" cy="309" rx="14.4" ry="3.4499999999999997" fill="url(#g10)"/>
<ellipse cx="882" cy="325" rx="9.600000000000001" ry="3.4499999999999997" fill="url(#g10)"/>
<ellipse cx="410" cy="387" rx="35.2" ry="5.75" fill="url(#g11)"/>
<ellipse cx="250.5" cy="338.75" rx="6.4" ry="3.4499999999999997" fill="url(#g13)"/>
<ellipse cx="260.5" cy="328.75" rx="8.0" ry="3.4499999999999997" fill="url(#g14)"/>
<ellipse cx="788" cy="404.5" rx="19.200000000000003" ry="4.0249999999999995" fill="url(#g16)"/>
<ellipse cx="609" cy="487" rx="40.0" ry="3.4499999999999997" fill="url(#g18)"/>
<ellipse cx="464" cy="465.4" rx="28.8" ry="5.175" fill="url(#g19)"/>
<ellipse cx="503.5" cy="452.4" rx="28.8" ry="5.175" fill="url(#g22)"/>
<ellipse cx="883.7" cy="310" rx="8.0" ry="3.4499999999999997" fill="url(#g22)"/>
<ellipse cx="872.8" cy="329" rx="8.0" ry="3.4499999999999997" fill="url(#g22)"/>
<ellipse cx="241.75" cy="328.75" rx="8.0" ry="4.0249999999999995" fill="url(#g26)"/>
<ellipse cx="619" cy="483" rx="33" ry="5.5" fill="url(#g70)"/>
<ellipse cx="570" cy="484" rx="40" ry="6.5" fill="url(#g90)"/></g>
<g stroke="#000" stroke-width="1.6" fill="none">
<line x1="133.5" y1="71" x2="133.5" y2="518.5" stroke-width="1.2"/>
<line x1="133" y1="518.5" x2="902.5" y2="518.5" stroke-width="1.2"/>
<line x1="126" y1="518" x2="133" y2="518"/>
<line x1="126" y1="461.75" x2="133" y2="461.75"/>
<line x1="126" y1="405.5" x2="133" y2="405.5"/>
<line x1="126" y1="349.25" x2="133" y2="349.25"/>
<line x1="126" y1="293" x2="133" y2="293"/>
<line x1="126" y1="236.75" x2="133" y2="236.75"/>
<line x1="126" y1="180.5" x2="133" y2="180.5"/>
<line x1="126" y1="124.25" x2="133" y2="124.25"/>
<line x1="133.5" y1="518" x2="133.5" y2="525.8"/>
<line x1="229.56" y1="518" x2="229.56" y2="525.8"/>
<line x1="325.62" y1="518" x2="325.62" y2="525.8"/>
<line x1="421.68" y1="518" x2="421.68" y2="525.8"/>
<line x1="517.74" y1="518" x2="517.74" y2="525.8"/>
<line x1="613.8" y1="518" x2="613.8" y2="525.8"/>
<line x1="709.86" y1="518" x2="709.86" y2="525.8"/>
<line x1="805.9200000000001" y1="518" x2="805.9200000000001" y2="525.8"/>
<line x1="901.98" y1="518" x2="901.98" y2="525.8"/>
<line x1="137.75" y1="611" x2="137.75" y2="618"/>
<line x1="137.75" y1="634.5" x2="137.75" y2="641.5"/>
<line x1="286.75" y1="611" x2="286.75" y2="618"/>
<line x1="286.75" y1="634.5" x2="286.75" y2="641.5"/>
<line x1="435.75" y1="611" x2="435.75" y2="618"/>
<line x1="435.75" y1="634.5" x2="435.75" y2="641.5"/>
<line x1="584.75" y1="611" x2="584.75" y2="618"/>
<line x1="584.75" y1="634.5" x2="584.75" y2="641.5"/>
<line x1="733.75" y1="611" x2="733.75" y2="618"/>
<line x1="733.75" y1="634.5" x2="733.75" y2="641.5"/>
<line x1="882.75" y1="611" x2="882.75" y2="618"/>
<line x1="882.75" y1="634.5" x2="882.75" y2="641.5"/>
</g>
<rect x="133.00" y="618" width="12.62" height="16.5" fill="#352a87"/>
<rect x="145.02" y="618" width="12.62" height="16.5" fill="#363093"/>
<rect x="157.03" y="618" width="12.62" height="16.5" fill="#3637a0"/>
<rect x="169.05" y="618" width="12.62" height="16.5" fill="#353dad"/>
<rect x="181.06" y="618" width="12.62" height="16.5" fill="#3243ba"/>
<rect x="193.08" y="618" width="12.62" height="16.5" fill="#2c4ac7"/>
<rect x="205.09" y="618" width="12.62" height="16.5" fill="#2053d4"/>
<rect x="217.11" y="618" width="12.62" height="16.5" fill="#0f5cdd"/>
<rect x="229.12" y="618" width="12.62" height="16.5" fill="#0363e1"/>
<rect x="241.14" y="618" width="12.62" height="16.5" fill="#0268e1"/>
<rect x="253.16" y="618" width="12.62" height="16.5" fill="#046de0"/>
<rect x="265.17" y="618" width="12.62" height="16.5" fill="#0871de"/>
<rect x="277.19" y="618" width="12.62" height="16.5" fill="#0d75dc"/>
<rect x="289.20" y="618" width="12.62" height="16.5" fill="#1079da"/>
<rect x="301.22" y="618" width="12.62" height="16.5" fill="#127dd8"/>
<rect x="313.23" y="618" width="12.62" height="16.5" fill="#1481d6"/>
<rect x="325.25" y="618" width="12.62" height="16.5" fill="#1485d4"/>
<rect x="337.27" y="618" width="12.62" height="16.5" fill="#1389d3"/>
<rect x="349.28" y="618" width="12.62" height="16.5" fill="#108ed2"/>
<rect x="361.30" y="618" width="12.62" height="16.5" fill="#0c93d2"/>
<rect x="373.31" y="618" width="12.62" height="16.5" fill="#0998d1"/>
<rect x="385.33" y="618" width="12.62" height="16.5" fill="#079ccf"/>
<rect x="397.34" y="618" width="12.62" height="16.5" fill="#06a0cd"/>
<rect x="409.36" y="618" width="12.62" height="16.5" fill="#06a4ca"/>
<rect x="421.38" y="618" width="12.62" height="16.5" fill="#06a7c6"/>
<rect x="433.39" y="618" width="12.62" height="16.5" fill="#07a9c2"/>
<rect x="445.41" y="618" width="12.62" height="16.5" fill="#0aacbe"/>
<rect x="457.42" y="618" width="12.62" height="16.5" fill="#0faeb9"/>
<rect x="469.44" y="618" width="12.62" height="16.5" fill="#15b1b4"/>
<rect x="481.45" y="618" width="12.62" height="16.5" fill="#1db3af"/>
<rect x="493.47" y="618" width="12.62" height="16.5" fill="#25b5a9"/>
<rect x="505.48" y="618" width="12.62" height="16.5" fill="#2eb7a4"/>
<rect x="517.50" y="618" width="12.62" height="16.5" fill="#38b99e"/>
<rect x="529.52" y="618" width="12.62" height="16.5" fill="#42bb98"/>
<rect x="541.53" y="618" width="12.62" height="16.5" fill="#4dbc92"/>
<rect x="553.55" y="618" width="12.62" height="16.5" fill="#59bd8c"/>
<rect x="565.56" y="618" width="12.62" height="16.5" fill="#65be86"/>
<rect x="577.58" y="618" width="12.62" height="16.5" fill="#71bf80"/>
<rect x="589.59" y="618" width="12.62" height="16.5" fill="#7cbf7b"/>
<rect x="601.61" y="618" width="12.62" height="16.5" fill="#87bf77"/>
<rect x="613.62" y="618" width="12.62" height="16.5" fill="#92bf73"/>
<rect x="625.64" y="618" width="12.62" height="16.5" fill="#9cbf6f"/>
<rect x="637.66" y="618" width="12.62" height="16.5" fill="#a5be6b"/>
<rect x="649.67" y="618" width="12.62" height="16.5" fill="#aebe67"/>
<rect x="661.69" y="618" width="12.62" height="16.5" fill="#b7bd64"/>
<rect x="673.70" y="618" width="12.62" height="16.5" fill="#c0bc60"/>
<rect x="685.72" y="618" width="12.62" height="16.5" fill="#c8bc5d"/>
<rect x="697.73" y="618" width="12.62" height="16.5" fill="#d1bb59"/>
<rect x="709.75" y="618" width="12.62" height="16.5" fill="#d9ba56"/>
<rect x="721.77" y="618" width="12.62" height="16.5" fill="#e1b952"/>
<rect x="733.78" y="618" width="12.62" height="16.5" fill="#e9b94e"/>
<rect x="745.80" y="618" width="12.62" height="16.5" fill="#f1b94a"/>
<rect x="757.81" y="618" width="12.62" height="16.5" fill="#f8bb44"/>
<rect x="769.83" y="618" width="12.62" height="16.5" fill="#fdbe3d"/>
<rect x="781.84" y="618" width="12.62" height="16.5" fill="#ffc337"/>
<rect x="793.86" y="618" width="12.62" height="16.5" fill="#fec832"/>
<rect x="805.88" y="618" width="12.62" height="16.5" fill="#fcce2e"/>
<rect x="817.89" y="618" width="12.62" height="16.5" fill="#fad32a"/>
<rect x="829.91" y="618" width="12.62" height="16.5" fill="#f7d826"/>
<rect x="841.92" y="618" width="12.62" height="16.5" fill="#f5de21"/>
<rect x="853.94" y="618" width="12.62" height="16.5" fill="#f5e41d"/>
<rect x="865.95" y="618" width="12.62" height="16.5" fill="#f5eb18"/>
<rect x="877.97" y="618" width="12.62" height="16.5" fill="#f6f313"/>
<rect x="889.98" y="618" width="12.62" height="16.5" fill="#f9fb0e"/>
<rect x="133.75" y="618.75" width="768.5" height="15.5" fill="none" stroke="#111" stroke-width="1.5"/>
<g>
<text x="119.5" y="523.6" text-anchor="end">16</text>
<text x="119.5" y="467.35" text-anchor="end">32</text>
<text x="119.5" y="411.1" text-anchor="end">64</text>
<text x="119.5" y="354.85" text-anchor="end">128</text>
<text x="119.5" y="298.6" text-anchor="end">256</text>
<text x="119.5" y="242.35" text-anchor="end">512</text>
<text x="119.5" y="186.1" text-anchor="end">1024</text>
<text x="119.5" y="129.85" text-anchor="end">2048</text>
<text x="133.5" y="548.3" text-anchor="middle">−8</text>
<text x="229.56" y="548.3" text-anchor="middle">−6</text>
<text x="325.62" y="548.3" text-anchor="middle">−4</text>
<text x="421.68" y="548.3" text-anchor="middle">−2</text>
<text x="517.74" y="548.3" text-anchor="middle">0</text>
<text x="613.8" y="548.3" text-anchor="middle">2</text>
<text x="709.86" y="548.3" text-anchor="middle">4</text>
<text x="805.9200000000001" y="548.3" text-anchor="middle">6</text>
<text x="901.98" y="548.3" text-anchor="middle">8</text>
<text x="137.75" y="663.5" text-anchor="middle">0</text>
<text x="286.75" y="663.5" text-anchor="middle">5</text>
<text x="435.75" y="663.5" text-anchor="middle">10</text>
<text x="584.75" y="663.5" text-anchor="middle">15</text>
<text x="733.75" y="663.5" text-anchor="middle">20</text>
<text x="882.75" y="663.5" text-anchor="middle">25</text>
<text x="517.5" y="63" text-anchor="middle" style="font-weight:bold;fill:#000" textLength="446" lengthAdjust="spacing">V1:h_16384Hz at 944306172.453 with Q of 71.1</text>
<text x="518" y="570" text-anchor="middle" textLength="131" lengthAdjust="spacing">Time [seconds]</text>
<text x="518" y="686.3" text-anchor="middle" textLength="196" lengthAdjust="spacing">Normalized tile energy</text>
<text transform="translate(67.3,294) rotate(-90)" text-anchor="middle" textLength="129" lengthAdjust="spacing">Frequency [Hz]</text>
</g>
</svg>
</body></html>
